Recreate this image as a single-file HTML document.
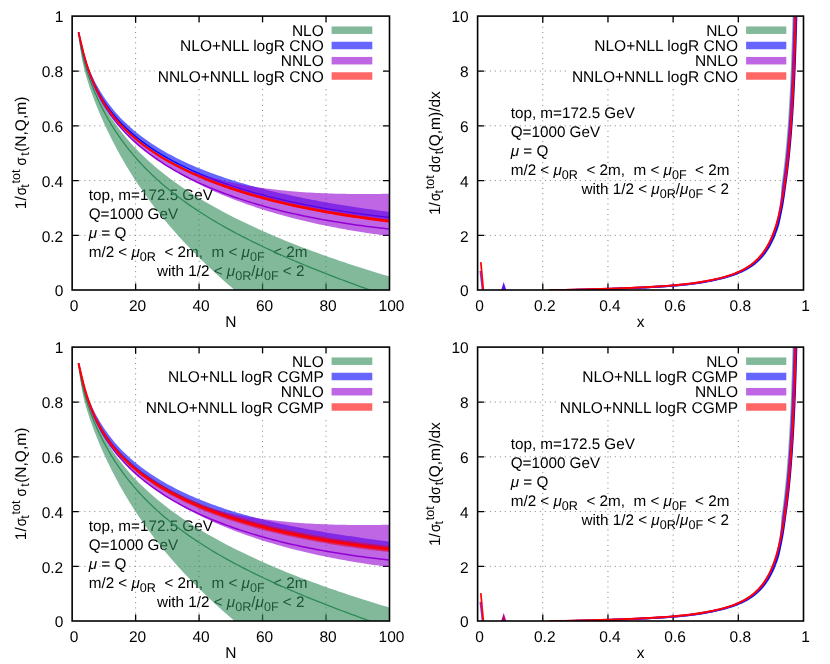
<!DOCTYPE html>
<html><head><meta charset="utf-8"><title>plot</title>
<style>html,body{margin:0;padding:0;background:#fff}svg{display:block;will-change:transform}text{font-family:"Liberation Sans", sans-serif;font-size:15.5px;fill:#000;text-rendering:geometricPrecision}text.s{font-size:12.6px}text.a{font-size:15.25px}</style></head><body>
<svg width="830" height="664" viewBox="0 0 830 664">
<rect width="830" height="664" fill="#fff"/>
<path d="M135.62 287.8V16.1M199.09 287.8V16.1M262.56 287.8V16.1M326.03 287.8V16.1" stroke="#808080" stroke-width="1" stroke-dasharray="1 4.2" fill="none"/>
<path d="M74.35 235.37H389.5M74.35 180.59H389.5M74.35 125.81H389.5M74.35 71.03H389.5" stroke="#808080" stroke-width="1" stroke-dasharray="1 4.0" fill="none"/>
<path d="M135.62 290v-6.6M135.62 16.1v6.6M199.09 290v-6.6M199.09 16.1v6.6M262.56 290v-6.6M262.56 16.1v6.6M326.03 290v-6.6M326.03 16.1v6.6M72.15 235.37h6.6M389.5 235.37h-6.6M72.15 180.59h6.6M389.5 180.59h-6.6M72.15 125.81h6.6M389.5 125.81h-6.6M72.15 71.03h6.6M389.5 71.03h-6.6" stroke="#000" stroke-width="1.3" fill="none"/>
<text x="74.15" y="311.2" text-anchor="middle">0</text>
<text x="137.62" y="311.2" text-anchor="middle">20</text>
<text x="201.09" y="311.2" text-anchor="middle">40</text>
<text x="264.56" y="311.2" text-anchor="middle">60</text>
<text x="328.03" y="311.2" text-anchor="middle">80</text>
<text x="391.5" y="311.2" text-anchor="middle">100</text>
<text x="63.25" y="296.3" text-anchor="end">0</text>
<text x="63.25" y="241.67" text-anchor="end">0.2</text>
<text x="63.25" y="186.89" text-anchor="end">0.4</text>
<text x="63.25" y="132.11" text-anchor="end">0.6</text>
<text x="63.25" y="77.33" text-anchor="end">0.8</text>
<text x="63.25" y="22.4" text-anchor="end">1</text>
<text x="230.82" y="326.6" text-anchor="middle">N</text>
<g transform="translate(25.6 209.2) rotate(-90)">
<text x="0" y="0">1/</text>
<text x="14" y="0" textLength="8.3" lengthAdjust="spacingAndGlyphs">σ</text>
<text x="25.8" y="-5.9" class="s">tot</text>
<text x="21.4" y="3.3" class="s">t</text>
<text x="43.6" y="0" textLength="8.3" lengthAdjust="spacingAndGlyphs">σ</text>
<text x="53.5" y="3.3" class="s">t</text>
<text x="57.4" y="0">(N,Q,m)</text>
</g>
<text class="a" x="88.7" y="200">top, m=172.5 GeV</text>
<text class="a" x="88.7" y="219.2">Q=1000 GeV</text>
<text class="a" x="88.7" y="238.3"><tspan font-style="italic">μ</tspan> = Q</text>
<text class="a" x="88.7" y="257.4" xml:space="preserve">m/2 &lt; <tspan font-style="italic">μ</tspan><tspan dy="3.9" font-size="12.6">0R</tspan><tspan dy="-3.9">  &lt; 2m,  m &lt; </tspan><tspan font-style="italic">μ</tspan><tspan dy="3.9" font-size="12.6">0F</tspan><tspan dy="-3.9">  &lt; 2m</tspan></text>
<text class="a" x="304.5" y="276.4" text-anchor="end" xml:space="preserve">with 1/2 &lt; <tspan font-style="italic">μ</tspan><tspan dy="3.9" font-size="12.6">0R</tspan><tspan dy="-3.9">/</tspan><tspan font-style="italic">μ</tspan><tspan dy="3.9" font-size="12.6">0F</tspan><tspan dy="-3.9"> &lt; 2</tspan></text>
<rect x="155.2" y="22.5" width="227.8" height="63" fill="#fff"/>
<clipPath id="c1"><rect x="72.15" y="16.1" width="317.35" height="273.9"/></clipPath>
<g clip-path="url(#c1)" fill="none" stroke-linejoin="round">
<path d="M78.5 32.26 80.08 38.96 81.67 45.57 83.26 51.82 84.84 57.66 86.43 63.09 88.02 68.15 89.6 72.88 91.19 77.32 92.78 81.49 94.36 85.43 95.95 89.16 97.54 92.7 99.12 96.07 100.71 99.29 102.3 102.37 103.89 105.33 105.47 108.17 107.06 110.9 108.65 113.54 110.23 116.08 111.82 118.54 113.41 120.93 114.99 123.24 116.58 125.48 118.17 127.66 119.75 129.78 121.34 131.84 122.93 133.86 124.51 135.82 126.1 137.73 127.69 139.6 129.27 141.43 130.86 143.22 132.45 144.97 134.03 146.68 135.62 148.36 138.79 151.63 141.97 154.77 145.14 157.8 148.31 160.73 151.49 163.56 154.66 166.31 157.83 168.97 161.01 171.56 164.18 174.08 167.36 176.53 170.53 178.91 173.7 181.24 176.88 183.51 180.05 185.73 183.22 187.9 186.4 190.02 189.57 192.1 192.74 194.13 195.92 196.13 199.09 198.08 202.26 200 205.44 201.88 208.61 203.72 211.78 205.53 214.96 207.31 218.13 209.06 221.3 210.79 224.48 212.48 227.65 214.14 230.83 215.78 234 217.4 237.17 218.99 240.35 220.55 243.52 222.1 246.69 223.62 249.87 225.12 253.04 226.6 256.21 228.06 259.39 229.5 262.56 230.92 265.73 232.32 268.91 233.71 272.08 235.07 275.25 236.42 278.43 237.76 281.6 239.07 284.77 240.38 287.95 241.66 291.12 242.94 294.3 244.19 297.47 245.44 300.64 246.67 303.82 247.88 306.99 249.09 310.16 250.28 313.34 251.45 316.51 252.62 319.68 253.77 322.86 254.91 326.03 256.04 329.2 257.16 332.38 258.27 335.55 259.37 338.72 260.46 341.9 261.53 345.07 262.6 348.24 263.65 351.42 264.7 354.59 265.74 357.76 266.77 360.94 267.78 364.11 268.79 367.29 269.79 370.46 270.79 373.63 271.77 376.81 272.74 379.98 273.71 383.15 274.67 386.33 275.62 389.5 276.56 L389.5 382.86 386.33 381.47 383.15 380.06 379.98 378.64 376.81 377.21 373.63 375.76 370.46 374.29 367.29 372.81 364.11 371.31 360.94 369.79 357.76 368.26 354.59 366.71 351.42 365.15 348.24 363.57 345.07 361.96 341.9 360.34 338.72 358.7 335.55 357.04 332.38 355.36 329.2 353.66 326.03 351.94 322.86 350.2 319.68 348.43 316.51 346.65 313.34 344.83 310.16 343 306.99 341.14 303.82 339.25 300.64 337.34 297.47 335.4 294.3 333.44 291.12 331.44 287.95 329.42 284.77 327.37 281.6 325.28 278.43 323.17 275.25 321.02 272.08 318.84 268.91 316.62 265.73 314.37 262.56 312.08 259.39 309.75 256.21 307.38 253.04 304.97 249.87 302.52 246.69 300.02 243.52 297.48 240.35 294.89 237.17 292.25 234 289.56 230.83 286.83 227.65 284.06 224.48 281.27 221.3 278.44 218.13 275.57 214.96 272.66 211.78 269.72 208.61 266.73 205.44 263.71 202.26 260.63 199.09 257.51 195.92 254.35 192.74 251.13 189.57 247.86 186.4 244.53 183.22 241.14 180.05 237.69 176.88 234.18 173.7 230.6 170.53 226.95 167.36 223.22 164.18 219.41 161.01 215.52 157.83 211.54 154.66 207.46 151.49 203.29 148.31 199.01 145.14 194.61 141.97 190.1 138.79 185.46 135.62 180.69 134.03 178.25 132.45 175.77 130.86 173.25 129.27 170.69 127.69 168.09 126.1 165.45 124.51 162.76 122.93 160.03 121.34 157.25 119.75 154.42 118.17 151.54 116.58 148.6 114.99 145.61 113.41 142.56 111.82 139.45 110.23 136.27 108.65 133.03 107.06 129.72 105.47 126.34 103.89 122.88 102.3 119.34 100.71 115.71 99.12 112 97.54 108.18 95.95 104.25 94.36 100.21 92.78 96.02 91.19 91.68 89.6 87.13 88.02 82.33 86.43 77.19 84.84 71.55 83.26 65.13 81.67 57.41 80.08 47.29 78.5 32.26Z" fill="#2e8b57" fill-opacity="0.6"/>
<path d="M78.5 32.26 80.08 43.2 81.67 51.43 83.26 58.22 84.84 64.12 86.43 69.45 88.02 74.34 89.6 78.9 91.19 83.2 92.78 87.27 94.36 91.15 95.95 94.86 97.54 98.41 99.12 101.82 100.71 105.11 102.3 108.28 103.89 111.35 105.47 114.31 107.06 117.18 108.65 119.97 110.23 122.67 111.82 125.29 113.41 127.84 114.99 130.32 116.58 132.74 118.17 135.09 119.75 137.39 121.34 139.63 122.93 141.81 124.51 143.95 126.1 146.03 127.69 148.07 129.27 150.07 130.86 152.02 132.45 153.93 134.03 155.81 135.62 157.64 138.79 161.21 141.97 164.64 145.14 167.96 148.31 171.15 151.49 174.24 154.66 177.23 157.83 180.13 161.01 182.94 164.18 185.67 167.36 188.33 170.53 190.91 173.7 193.42 176.88 195.87 180.05 198.26 183.22 200.59 186.4 202.87 189.57 205.1 192.74 207.28 195.92 209.41 199.09 211.5 202.26 213.54 205.44 215.55 208.61 217.52 211.78 219.45 214.96 221.34 218.13 223.21 221.3 225.04 224.48 226.84 227.65 228.61 230.83 230.36 234 232.07 237.17 233.77 240.35 235.43 243.52 237.07 246.69 238.69 249.87 240.29 253.04 241.87 256.21 243.43 259.39 244.96 262.56 246.48 265.73 247.98 268.91 249.46 272.08 250.92 275.25 252.37 278.43 253.8 281.6 255.22 284.77 256.62 287.95 258.01 291.12 259.38 294.3 260.74 297.47 262.09 300.64 263.42 303.82 264.74 306.99 266.05 310.16 267.35 313.34 268.64 316.51 269.91 319.68 271.18 322.86 272.43 326.03 273.68 329.2 274.91 332.38 276.14 335.55 277.36 338.72 278.56 341.9 279.76 345.07 280.95 348.24 282.14 351.42 283.31 354.59 284.48 357.76 285.63 360.94 286.79 364.11 287.93 367.29 289.07 370.46 290.2 373.63 291.32 376.81 292.43 379.98 293.53 383.15 294.62 386.33 295.7 389.5 296.76" stroke="#2e8b57" stroke-width="1.3"/>
<path d="M78.5 32.26 80.08 39.97 81.67 46.5 83.26 52.21 84.84 57.32 86.43 61.96 88.02 66.22 89.6 70.17 91.19 73.86 92.78 77.31 94.36 80.57 95.95 83.65 97.54 86.57 99.12 89.35 100.71 92.01 102.3 94.55 103.89 96.98 105.47 99.31 107.06 101.56 108.65 103.72 110.23 105.81 111.82 107.82 113.41 109.77 114.99 111.65 116.58 113.47 118.17 115.24 119.75 116.96 121.34 118.63 122.93 120.25 124.51 121.82 126.1 123.36 127.69 124.85 129.27 126.31 130.86 127.73 132.45 129.11 134.03 130.46 135.62 131.79 138.79 134.34 141.97 136.78 145.14 139.11 148.31 141.35 151.49 143.51 154.66 145.58 157.83 147.57 161.01 149.49 164.18 151.35 167.36 153.14 170.53 154.87 173.7 156.55 176.88 158.17 180.05 159.74 183.22 161.27 186.4 162.75 189.57 164.18 192.74 165.58 195.92 166.93 199.09 168.25 202.26 169.54 205.44 170.79 208.61 172 211.78 173.19 214.96 174.35 218.13 175.47 221.3 176.58 224.48 177.65 227.65 178.7 230.83 179.72 234 180.72 237.17 181.7 240.35 182.66 243.52 183.59 246.69 184.51 249.87 185.4 253.04 186.28 256.21 187.14 259.39 187.98 262.56 188.8 265.73 189.61 268.91 190.4 272.08 191.17 275.25 191.93 278.43 192.68 281.6 193.41 284.77 194.12 287.95 194.83 291.12 195.52 294.3 196.19 297.47 196.86 300.64 197.51 303.82 198.15 306.99 198.78 310.16 199.4 313.34 200.01 316.51 200.6 319.68 201.19 322.86 201.77 326.03 202.33 329.2 202.89 332.38 203.44 335.55 203.98 338.72 204.51 341.9 205.03 345.07 205.54 348.24 206.05 351.42 206.55 354.59 207.03 357.76 207.51 360.94 207.99 364.11 208.45 367.29 208.91 370.46 209.36 373.63 209.81 376.81 210.25 379.98 210.68 383.15 211.1 386.33 211.52 389.5 211.93 L389.5 221.12 386.33 220.74 383.15 220.35 379.98 219.96 376.81 219.55 373.63 219.14 370.46 218.72 367.29 218.28 364.11 217.84 360.94 217.4 357.76 216.94 354.59 216.47 351.42 215.99 348.24 215.51 345.07 215.01 341.9 214.5 338.72 213.98 335.55 213.45 332.38 212.92 329.2 212.37 326.03 211.8 322.86 211.23 319.68 210.65 316.51 210.05 313.34 209.44 310.16 208.82 306.99 208.19 303.82 207.54 300.64 206.88 297.47 206.21 294.3 205.52 291.12 204.82 287.95 204.1 284.77 203.37 281.6 202.63 278.43 201.87 275.25 201.09 272.08 200.3 268.91 199.49 265.73 198.66 262.56 197.81 259.39 196.95 256.21 196.07 253.04 195.17 249.87 194.25 246.69 193.3 243.52 192.34 240.35 191.36 237.17 190.35 234 189.32 230.83 188.27 227.65 187.2 224.48 186.09 221.3 184.97 218.13 183.81 214.96 182.63 211.78 181.42 208.61 180.18 205.44 178.9 202.26 177.6 199.09 176.26 195.92 174.88 192.74 173.47 189.57 172.02 186.4 170.53 183.22 168.99 180.05 167.41 176.88 165.79 173.7 164.11 170.53 162.39 167.36 160.6 164.18 158.76 161.01 156.86 157.83 154.89 154.66 152.85 151.49 150.73 148.31 148.54 145.14 146.25 141.97 143.87 138.79 141.38 135.62 138.78 134.03 137.44 132.45 136.06 130.86 134.65 129.27 133.2 127.69 131.71 126.1 130.18 124.51 128.61 122.93 127 121.34 125.34 119.75 123.62 118.17 121.85 116.58 120.02 114.99 118.13 113.41 116.18 111.82 114.15 110.23 112.04 108.65 109.84 107.06 107.56 105.47 105.17 103.89 102.68 102.3 100.06 100.71 97.31 99.12 94.41 97.54 91.34 95.95 88.1 94.36 84.64 92.78 80.95 91.19 77 89.6 72.74 88.02 68.15 86.43 63.17 84.84 57.75 83.26 51.86 81.67 45.5 80.08 38.8 78.5 32.26Z" fill="#0000ff" fill-opacity="0.6"/>
<path d="M78.5 32.26 80.08 39.32 81.67 46.15 83.26 52.46 84.84 58.22 86.43 63.46 88.02 68.26 89.6 72.67 91.19 76.74 92.78 80.52 94.36 84.04 95.95 87.34 97.54 90.45 99.12 93.38 100.71 96.16 102.3 98.79 103.89 101.31 105.47 103.71 107.06 106 108.65 108.2 110.23 110.32 111.82 112.36 113.41 114.32 114.99 116.22 116.58 118.05 118.17 119.83 119.75 121.55 121.34 123.22 122.93 124.84 124.51 126.41 126.1 127.95 127.69 129.44 129.27 130.9 130.86 132.32 132.45 133.7 134.03 135.05 135.62 136.38 138.79 138.93 141.97 141.38 145.14 143.73 148.31 145.99 151.49 148.16 154.66 150.26 157.83 152.28 161.01 154.23 164.18 156.12 167.36 157.95 170.53 159.72 173.7 161.43 176.88 163.1 180.05 164.72 183.22 166.29 186.4 167.81 189.57 169.3 192.74 170.74 195.92 172.15 199.09 173.52 202.26 174.85 205.44 176.15 208.61 177.42 211.78 178.65 214.96 179.86 218.13 181.04 221.3 182.18 224.48 183.3 227.65 184.4 230.83 185.47 234 186.51 237.17 187.53 240.35 188.53 243.52 189.5 246.69 190.46 249.87 191.39 253.04 192.3 256.21 193.19 259.39 194.06 262.56 194.91 265.73 195.74 268.91 196.56 272.08 197.36 275.25 198.14 278.43 198.9 281.6 199.65 284.77 200.38 287.95 201.09 291.12 201.8 294.3 202.48 297.47 203.15 300.64 203.81 303.82 204.45 306.99 205.08 310.16 205.7 313.34 206.3 316.51 206.89 319.68 207.47 322.86 208.03 326.03 208.58 329.2 209.13 332.38 209.65 335.55 210.17 338.72 210.68 341.9 211.18 345.07 211.66 348.24 212.14 351.42 212.6 354.59 213.05 357.76 213.5 360.94 213.93 364.11 214.36 367.29 214.77 370.46 215.18 373.63 215.58 376.81 215.96 379.98 216.34 383.15 216.71 386.33 217.07 389.5 217.43" stroke="#0000ff" stroke-width="1.25"/>
<path d="M78.5 32.26 80.08 40.97 81.67 48.08 83.26 54.21 84.84 59.64 86.43 64.57 88.02 69.1 89.6 73.3 91.19 77.23 92.78 80.93 94.36 84.42 95.95 87.72 97.54 90.86 99.12 93.86 100.71 96.72 102.3 99.46 103.89 102.08 105.47 104.6 107.06 107.02 108.65 109.35 110.23 111.6 111.82 113.76 113.41 115.86 114.99 117.88 116.58 119.83 118.17 121.72 119.75 123.55 121.34 125.32 122.93 127.04 124.51 128.71 126.1 130.33 127.69 131.9 129.27 133.43 130.86 134.92 132.45 136.36 134.03 137.76 135.62 139.13 138.79 141.75 141.97 144.24 145.14 146.61 148.31 148.85 151.49 150.99 154.66 153.03 157.83 154.97 161.01 156.83 164.18 158.6 167.36 160.29 170.53 161.9 173.7 163.45 176.88 164.92 180.05 166.34 183.22 167.69 186.4 168.98 189.57 170.22 192.74 171.41 195.92 172.55 199.09 173.64 202.26 174.69 205.44 175.69 208.61 176.65 211.78 177.57 214.96 178.46 218.13 179.3 221.3 180.11 224.48 180.89 227.65 181.64 230.83 182.35 234 183.03 237.17 183.69 240.35 184.31 243.52 184.91 246.69 185.48 249.87 186.03 253.04 186.55 256.21 187.05 259.39 187.53 262.56 187.98 265.73 188.42 268.91 188.83 272.08 189.22 275.25 189.6 278.43 189.95 281.6 190.29 284.77 190.6 287.95 190.9 291.12 191.19 294.3 191.46 297.47 191.71 300.64 191.95 303.82 192.17 306.99 192.38 310.16 192.57 313.34 192.75 316.51 192.92 319.68 193.07 322.86 193.21 326.03 193.34 329.2 193.46 332.38 193.56 335.55 193.66 338.72 193.74 341.9 193.81 345.07 193.87 348.24 193.92 351.42 193.96 354.59 193.99 357.76 194.01 360.94 194.03 364.11 194.03 367.29 194.02 370.46 194.01 373.63 193.98 376.81 193.95 379.98 193.91 383.15 193.86 386.33 193.81 389.5 193.74 L389.5 236.01 386.33 235.61 383.15 235.2 379.98 234.78 376.81 234.34 373.63 233.89 370.46 233.44 367.29 232.97 364.11 232.49 360.94 231.99 357.76 231.49 354.59 230.97 351.42 230.44 348.24 229.89 345.07 229.34 341.9 228.77 338.72 228.18 335.55 227.59 332.38 226.97 329.2 226.35 326.03 225.71 322.86 225.05 319.68 224.38 316.51 223.7 313.34 223 310.16 222.28 306.99 221.55 303.82 220.8 300.64 220.04 297.47 219.26 294.3 218.46 291.12 217.64 287.95 216.81 284.77 215.95 281.6 215.08 278.43 214.19 275.25 213.28 272.08 212.35 268.91 211.4 265.73 210.43 262.56 209.44 259.39 208.43 256.21 207.4 253.04 206.34 249.87 205.26 246.69 204.15 243.52 203.03 240.35 201.87 237.17 200.7 234 199.49 230.83 198.26 227.65 197 224.48 195.72 221.3 194.4 218.13 193.05 214.96 191.68 211.78 190.27 208.61 188.83 205.44 187.36 202.26 185.85 199.09 184.3 195.92 182.72 192.74 181.1 189.57 179.44 186.4 177.73 183.22 175.99 180.05 174.19 176.88 172.35 173.7 170.47 170.53 168.52 167.36 166.53 164.18 164.47 161.01 162.36 157.83 160.18 154.66 157.94 151.49 155.62 148.31 153.22 145.14 150.74 141.97 148.17 138.79 145.5 135.62 142.72 134.03 141.29 132.45 139.83 130.86 138.33 129.27 136.81 127.69 135.24 126.1 133.64 124.51 132 122.93 130.31 121.34 128.58 119.75 126.8 118.17 124.97 116.58 123.09 114.99 121.14 113.41 119.13 111.82 117.05 110.23 114.89 108.65 112.65 107.06 110.32 105.47 107.89 103.89 105.35 102.3 102.69 100.71 99.89 99.12 96.94 97.54 93.81 95.95 90.5 94.36 86.96 92.78 83.17 91.19 79.1 89.6 74.69 88.02 69.91 86.43 64.68 84.84 58.97 83.26 52.73 81.67 45.96 80.08 38.89 78.5 32.26Z" fill="#9400d3" fill-opacity="0.6"/>
<path d="M78.5 32.26 80.08 39.45 81.67 46.52 83.26 53.1 84.84 59.13 86.43 64.65 88.02 69.7 89.6 74.36 91.19 78.66 92.78 82.67 94.36 86.4 95.95 89.91 97.54 93.22 99.12 96.34 100.71 99.3 102.3 102.12 103.89 104.8 105.47 107.37 107.06 109.83 108.65 112.19 110.23 114.46 111.82 116.65 113.41 118.76 114.99 120.8 116.58 122.78 118.17 124.69 119.75 126.54 121.34 128.35 122.93 130.1 124.51 131.8 126.1 133.46 127.69 135.07 129.27 136.65 130.86 138.18 132.45 139.69 134.03 141.15 135.62 142.58 138.79 145.36 141.97 148.01 145.14 150.56 148.31 153.02 151.49 155.38 154.66 157.66 157.83 159.85 161.01 161.98 164.18 164.03 167.36 166.02 170.53 167.94 173.7 169.81 176.88 171.62 180.05 173.37 183.22 175.08 186.4 176.73 189.57 178.34 192.74 179.91 195.92 181.43 199.09 182.92 202.26 184.36 205.44 185.77 208.61 187.14 211.78 188.47 214.96 189.77 218.13 191.04 221.3 192.28 224.48 193.49 227.65 194.66 230.83 195.81 234 196.93 237.17 198.03 240.35 199.1 243.52 200.14 246.69 201.16 249.87 202.15 253.04 203.12 256.21 204.07 259.39 205 262.56 205.9 265.73 206.78 268.91 207.65 272.08 208.49 275.25 209.32 278.43 210.12 281.6 210.91 284.77 211.68 287.95 212.43 291.12 213.16 294.3 213.88 297.47 214.58 300.64 215.26 303.82 215.93 306.99 216.58 310.16 217.22 313.34 217.84 316.51 218.45 319.68 219.04 322.86 219.62 326.03 220.18 329.2 220.74 332.38 221.28 335.55 221.8 338.72 222.31 341.9 222.82 345.07 223.3 348.24 223.78 351.42 224.24 354.59 224.7 357.76 225.14 360.94 225.57 364.11 225.99 367.29 226.4 370.46 226.79 373.63 227.18 376.81 227.56 379.98 227.92 383.15 228.28 386.33 228.63 389.5 228.96" stroke="#9400d3" stroke-width="1.5"/>
<path d="M78.5 32.26 80.08 38.79 81.67 45.49 83.26 51.84 84.84 57.71 86.43 63.11 88.02 68.07 89.6 72.63 91.19 76.83 92.78 80.72 94.36 84.34 95.95 87.73 97.54 90.93 99.12 93.96 100.71 96.83 102.3 99.54 103.89 102.13 105.47 104.59 107.06 106.95 108.65 109.2 110.23 111.37 111.82 113.45 113.41 115.45 114.99 117.38 116.58 119.25 118.17 121.05 119.75 122.8 121.34 124.49 122.93 126.13 124.51 127.73 126.1 129.28 127.69 130.79 129.27 132.26 130.86 133.7 132.45 135.1 134.03 136.46 135.62 137.8 138.79 140.38 141.97 142.84 145.14 145.21 148.31 147.48 151.49 149.66 154.66 151.76 157.83 153.79 161.01 155.75 164.18 157.64 167.36 159.47 170.53 161.24 173.7 162.96 176.88 164.62 180.05 166.24 183.22 167.81 186.4 169.33 189.57 170.82 192.74 172.26 195.92 173.66 199.09 175.02 202.26 176.35 205.44 177.65 208.61 178.91 211.78 180.14 214.96 181.34 218.13 182.51 221.3 183.65 224.48 184.76 227.65 185.85 230.83 186.92 234 187.96 237.17 188.98 240.35 189.97 243.52 190.95 246.69 191.9 249.87 192.83 253.04 193.75 256.21 194.65 259.39 195.53 262.56 196.39 265.73 197.23 268.91 198.06 272.08 198.87 275.25 199.67 278.43 200.44 281.6 201.2 284.77 201.95 287.95 202.68 291.12 203.4 294.3 204.1 297.47 204.78 300.64 205.46 303.82 206.12 306.99 206.76 310.16 207.4 313.34 208.02 316.51 208.63 319.68 209.22 322.86 209.81 326.03 210.38 329.2 210.94 332.38 211.49 335.55 212.03 338.72 212.56 341.9 213.08 345.07 213.58 348.24 214.08 351.42 214.57 354.59 215.05 357.76 215.51 360.94 215.97 364.11 216.42 367.29 216.86 370.46 217.29 373.63 217.71 376.81 218.13 379.98 218.53 383.15 218.93 386.33 219.32 389.5 219.69 L389.5 222.54 386.33 222.16 383.15 221.78 379.98 221.38 376.81 220.97 373.63 220.56 370.46 220.14 367.29 219.71 364.11 219.27 360.94 218.82 357.76 218.36 354.59 217.89 351.42 217.42 348.24 216.93 345.07 216.43 341.9 215.93 338.72 215.41 335.55 214.88 332.38 214.34 329.2 213.79 326.03 213.23 322.86 212.66 319.68 212.07 316.51 211.48 313.34 210.87 310.16 210.25 306.99 209.61 303.82 208.97 300.64 208.31 297.47 207.63 294.3 206.95 291.12 206.24 287.95 205.53 284.77 204.8 281.6 204.05 278.43 203.29 275.25 202.51 272.08 201.72 268.91 200.91 265.73 200.08 262.56 199.24 259.39 198.37 256.21 197.49 253.04 196.58 249.87 195.66 246.69 194.71 243.52 193.74 240.35 192.75 237.17 191.73 234 190.69 230.83 189.63 227.65 188.54 224.48 187.43 221.3 186.29 218.13 185.12 214.96 183.92 211.78 182.7 208.61 181.44 205.44 180.16 202.26 178.84 199.09 177.49 195.92 176.1 192.74 174.68 189.57 173.22 186.4 171.72 183.22 170.17 180.05 168.59 176.88 166.95 173.7 165.27 170.53 163.53 167.36 161.74 164.18 159.89 161.01 157.97 157.83 155.99 154.66 153.94 151.49 151.81 148.31 149.59 145.14 147.29 141.97 144.89 138.79 142.39 135.62 139.77 134.03 138.41 132.45 137.02 130.86 135.6 129.27 134.13 127.69 132.63 126.1 131.09 124.51 129.5 122.93 127.86 121.34 126.18 119.75 124.44 118.17 122.65 116.58 120.8 114.99 118.88 113.41 116.9 111.82 114.84 110.23 112.71 108.65 110.48 107.06 108.17 105.47 105.75 103.89 103.22 102.3 100.57 100.71 97.79 99.12 94.85 97.54 91.75 95.95 88.46 94.36 84.94 92.78 81.19 91.19 77.17 89.6 72.86 88.02 68.23 86.43 63.23 84.84 57.79 83.26 51.89 81.67 45.51 80.08 38.8 78.5 32.26Z" fill="#ff0000"/>
<path d="M78.5 32.26 80.08 38.8 81.67 45.5 83.26 51.86 84.84 57.75 86.43 63.17 88.02 68.15 89.6 72.74 91.19 77 92.78 80.95 94.36 84.64 95.95 88.1 97.54 91.34 99.12 94.41 100.71 97.31 102.3 100.06 103.89 102.68 105.47 105.17 107.06 107.56 108.65 109.84 110.23 112.04 111.82 114.15 113.41 116.18 114.99 118.13 116.58 120.02 118.17 121.85 119.75 123.62 121.34 125.34 122.93 127 124.51 128.61 126.1 130.18 127.69 131.71 129.27 133.2 130.86 134.65 132.45 136.06 134.03 137.44 135.62 138.78 138.79 141.38 141.97 143.87 145.14 146.25 148.31 148.54 151.49 150.73 154.66 152.85 157.83 154.89 161.01 156.86 164.18 158.76 167.36 160.6 170.53 162.39 173.7 164.11 176.88 165.79 180.05 167.41 183.22 168.99 186.4 170.53 189.57 172.02 192.74 173.47 195.92 174.88 199.09 176.26 202.26 177.6 205.44 178.9 208.61 180.18 211.78 181.42 214.96 182.63 218.13 183.81 221.3 184.97 224.48 186.09 227.65 187.2 230.83 188.27 234 189.32 237.17 190.35 240.35 191.36 243.52 192.34 246.69 193.3 249.87 194.25 253.04 195.17 256.21 196.07 259.39 196.95 262.56 197.81 265.73 198.66 268.91 199.49 272.08 200.3 275.25 201.09 278.43 201.87 281.6 202.63 284.77 203.37 287.95 204.1 291.12 204.82 294.3 205.52 297.47 206.21 300.64 206.88 303.82 207.54 306.99 208.19 310.16 208.82 313.34 209.44 316.51 210.05 319.68 210.65 322.86 211.23 326.03 211.8 329.2 212.37 332.38 212.92 335.55 213.45 338.72 213.98 341.9 214.5 345.07 215.01 348.24 215.51 351.42 215.99 354.59 216.47 357.76 216.94 360.94 217.4 364.11 217.84 367.29 218.28 370.46 218.72 373.63 219.14 376.81 219.55 379.98 219.96 383.15 220.35 386.33 220.74 389.5 221.12" stroke="#ff0000" stroke-width="1.8"/>
</g>
<rect x="72.15" y="16.1" width="317.35" height="273.9" fill="none" stroke="#000" stroke-width="1.6"/>
<text x="323.8" y="35.7" text-anchor="end">NLO</text>
<rect x="331.6" y="26.45" width="40.7" height="7.5" fill="#2e8b57" fill-opacity="0.6"/>
<text x="323.8" y="51" text-anchor="end">NLO+NLL logR CNO</text>
<rect x="331.6" y="41.75" width="40.7" height="7.5" fill="#0000ff" fill-opacity="0.6"/>
<text x="323.8" y="66.2" text-anchor="end">NNLO</text>
<rect x="331.6" y="56.95" width="40.7" height="7.5" fill="#9400d3" fill-opacity="0.6"/>
<text x="323.8" y="81.5" text-anchor="end">NNLO+NNLL logR CNO</text>
<rect x="331.6" y="72.25" width="40.7" height="7.5" fill="#ff0000" fill-opacity="0.6"/>
<path d="M542.78 287.8V16.1M607.96 287.8V16.1M673.14 287.8V16.1M738.32 287.8V16.1" stroke="#808080" stroke-width="1" stroke-dasharray="1 4.2" fill="none"/>
<path d="M479.8 235.37H803.5M479.8 180.59H803.5M479.8 125.81H803.5M479.8 71.03H803.5" stroke="#808080" stroke-width="1" stroke-dasharray="1 4.0" fill="none"/>
<path d="M542.78 290v-6.6M542.78 16.1v6.6M607.96 290v-6.6M607.96 16.1v6.6M673.14 290v-6.6M673.14 16.1v6.6M738.32 290v-6.6M738.32 16.1v6.6M477.6 235.37h6.6M803.5 235.37h-6.6M477.6 180.59h6.6M803.5 180.59h-6.6M477.6 125.81h6.6M803.5 125.81h-6.6M477.6 71.03h6.6M803.5 71.03h-6.6" stroke="#000" stroke-width="1.3" fill="none"/>
<text x="479.6" y="311.2" text-anchor="middle">0</text>
<text x="544.78" y="311.2" text-anchor="middle">0.2</text>
<text x="609.96" y="311.2" text-anchor="middle">0.4</text>
<text x="675.14" y="311.2" text-anchor="middle">0.6</text>
<text x="740.32" y="311.2" text-anchor="middle">0.8</text>
<text x="805.5" y="311.2" text-anchor="middle">1</text>
<text x="468.7" y="296.3" text-anchor="end">0</text>
<text x="468.7" y="241.67" text-anchor="end">2</text>
<text x="468.7" y="186.89" text-anchor="end">4</text>
<text x="468.7" y="132.11" text-anchor="end">6</text>
<text x="468.7" y="77.33" text-anchor="end">8</text>
<text x="468.7" y="22.4" text-anchor="end">10</text>
<text x="640.55" y="326.6" text-anchor="middle">x</text>
<g transform="translate(440 215) rotate(-90)">
<text x="0" y="0">1/</text>
<text x="14" y="0" textLength="8.3" lengthAdjust="spacingAndGlyphs">σ</text>
<text x="25.8" y="-5.9" class="s">tot</text>
<text x="21.4" y="3.3" class="s">t</text>
<text x="42.6" y="0">d</text>
<text x="51.2" y="0" textLength="8.3" lengthAdjust="spacingAndGlyphs">σ</text>
<text x="60.7" y="3.3" class="s">t</text>
<text x="63.6" y="0">(Q,m)/dx</text>
</g>
<text class="a" x="510.7" y="117.6">top, m=172.5 GeV</text>
<text class="a" x="510.7" y="136.6">Q=1000 GeV</text>
<text class="a" x="510.7" y="155.8"><tspan font-style="italic">μ</tspan> = Q</text>
<text class="a" x="510.7" y="175" xml:space="preserve">m/2 &lt; <tspan font-style="italic">μ</tspan><tspan dy="3.9" font-size="12.6">0R</tspan><tspan dy="-3.9">  &lt; 2m,  m &lt; </tspan><tspan font-style="italic">μ</tspan><tspan dy="3.9" font-size="12.6">0F</tspan><tspan dy="-3.9">  &lt; 2m</tspan></text>
<text class="a" x="729" y="194.2" text-anchor="end" xml:space="preserve">with 1/2 &lt; <tspan font-style="italic">μ</tspan><tspan dy="3.9" font-size="12.6">0R</tspan><tspan dy="-3.9">/</tspan><tspan font-style="italic">μ</tspan><tspan dy="3.9" font-size="12.6">0F</tspan><tspan dy="-3.9"> &lt; 2</tspan></text>
<rect x="569.4" y="22.5" width="227.6" height="63" fill="#fff"/>
<clipPath id="c2"><rect x="477.6" y="16.1" width="325.9" height="273.9"/></clipPath>
<g clip-path="url(#c2)" fill="none" stroke-linejoin="round">
<path d="M551.6 290.24 554.86 290.23 558.12 290.21 561.38 290.2 564.63 290.17 567.89 290.12 571.15 290.06 574.41 289.97 577.67 289.89 580.93 289.82 584.19 289.74 587.45 289.66 590.71 289.57 593.97 289.47 597.22 289.38 600.48 289.28 603.74 289.18 607 289.07 610.26 288.96 613.52 288.85 616.78 288.73 620.04 288.61 623.3 288.48 626.56 288.36 629.81 288.23 633.07 288.09 636.33 287.95 639.59 287.8 642.85 287.65 646.11 287.48 649.37 287.31 652.63 287.13 655.89 286.95 659.14 286.75 662.4 286.55 665.66 286.33 668.92 286.11 672.18 285.86 675.44 285.59 678.7 285.31 681.96 285 685.22 284.67 688.48 284.31 691.74 283.93 694.99 283.5 698.25 283.04 701.51 282.54 704.77 282 708.03 281.42 711.29 280.8 714.55 280.14 717.81 279.43 721.07 278.67 724.33 277.83 727.58 276.92 730.84 275.92 734.1 274.81 737.36 273.59 740.62 272.22 740.62 272.22 741.27 271.93 741.92 271.63 742.58 271.32 743.23 271.01 743.88 270.69 744.53 270.36 745.18 270.02 745.83 269.67 746.49 269.32 747.14 268.95 747.79 268.58 748.44 268.19 749.09 267.8 749.75 267.39 750.4 266.98 751.05 266.55 751.7 266.11 752.35 265.66 753 265.19 753.66 264.71 754.31 264.22 754.96 263.71 755.61 263.18 756.26 262.64 756.91 262.09 757.57 261.51 758.22 260.92 758.87 260.31 759.52 259.67 760.17 259.02 760.83 258.34 761.48 257.64 762.13 256.92 762.78 256.17 763.43 255.39 764.08 254.58 764.74 253.75 765.39 252.88 766.04 251.98 766.69 251.05 767.34 250.08 768 249.07 768.65 248.02 769.3 246.93 769.95 245.79 770.6 244.61 771.25 243.37 771.91 242.08 772.56 240.73 773.21 239.33 773.86 237.86 774.51 236.32 775.17 234.71 775.82 233.03 776.47 231.26 777.12 229.41 777.77 227.47 778.42 225.42 778.92 223.27 779.3 221 779.66 218.61 780.01 216.09 780.33 213.43 780.64 210.62 780.93 207.66 781.21 204.53 781.45 201.21 781.68 197.7 781.88 193.98 782.05 190.02 782.2 185.82 782.85 181.37 783.5 176.63 784.15 171.57 784.81 166.15 785.46 160.34 786.11 154.1 786.76 147.37 787.41 140.08 788.06 132.16 788.72 123.51 789.37 113.98 790.02 103.39 790.67 91.49 791.32 77.91 791.97 62.12 792.63 43.3 793.28 20.12 793.93 -9.6" stroke="#2e8b57" stroke-opacity="0.6" stroke-width="1.7"/>
<path d="M550.9 290.19 554.16 290.18 557.42 290.16 560.68 290.15 563.93 290.12 567.19 290.07 570.45 290.01 573.71 289.92 576.97 289.84 580.23 289.77 583.49 289.69 586.75 289.61 590.01 289.52 593.27 289.42 596.52 289.33 599.78 289.23 603.04 289.13 606.3 289.02 609.56 288.91 612.82 288.8 616.08 288.68 619.34 288.56 622.6 288.43 625.86 288.31 629.11 288.18 632.37 288.04 635.63 287.9 638.89 287.75 642.15 287.6 645.41 287.43 648.67 287.26 651.93 287.08 655.19 286.9 658.45 286.7 661.7 286.5 664.96 286.28 668.22 286.06 671.48 285.81 674.74 285.54 678 285.26 681.26 284.95 684.52 284.62 687.78 284.26 691.04 283.88 694.29 283.45 697.55 282.99 700.81 282.49 704.07 281.95 707.33 281.37 710.59 280.75 713.85 280.09 717.11 279.38 720.37 278.62 723.63 277.78 726.88 276.87 730.14 275.87 733.4 274.76 736.66 273.54 739.92 272.17 739.92 272.17 740.57 271.88 741.22 271.58 741.88 271.27 742.53 270.96 743.18 270.64 743.83 270.31 744.48 269.97 745.13 269.62 745.79 269.27 746.44 268.9 747.09 268.53 747.74 268.14 748.39 267.75 749.05 267.34 749.7 266.93 750.35 266.5 751 266.06 751.65 265.61 752.3 265.14 752.96 264.66 753.61 264.17 754.26 263.66 754.91 263.13 755.56 262.59 756.22 262.04 756.87 261.46 757.52 260.87 758.17 260.26 758.82 259.62 759.47 258.97 760.13 258.29 760.78 257.59 761.43 256.87 762.08 256.12 762.73 255.34 763.38 254.53 764.04 253.7 764.69 252.83 765.34 251.93 765.99 251 766.64 250.03 767.3 249.02 767.95 247.97 768.6 246.88 769.25 245.74 769.9 244.56 770.55 243.32 771.21 242.03 771.86 240.68 772.51 239.28 773.16 237.81 773.81 236.27 774.47 234.66 775.12 232.98 775.77 231.21 776.42 229.36 777.07 227.42 777.72 225.37 778.34 223.22 778.93 220.95 779.52 218.56 780.1 216.05 780.68 213.39 781.26 210.59 781.83 207.63 782.4 204.5 782.96 201.19 783.51 197.69 784.06 193.97 784.61 190.02 785.15 185.82 785.8 181.37 786.45 176.63 787.1 171.57 787.75 166.15 788.41 160.34 789.06 154.1 789.71 147.37 790.36 140.08 791.01 132.16 791.67 123.51 792.32 113.98 792.97 103.39 793.62 91.49 794.27 77.91 794.92 62.12 795.58 43.3 796.23 20.12 796.88 -9.6" stroke="#0000ff" stroke-width="2.0"/>
<path d="M549.7 290.09 552.96 290.08 556.22 290.06 559.48 290.05 562.73 290.02 565.99 289.97 569.25 289.91 572.51 289.82 575.77 289.74 579.03 289.67 582.29 289.59 585.55 289.51 588.81 289.42 592.07 289.32 595.32 289.23 598.58 289.13 601.84 289.03 605.1 288.92 608.36 288.81 611.62 288.7 614.88 288.58 618.14 288.46 621.4 288.33 624.66 288.21 627.91 288.08 631.17 287.94 634.43 287.8 637.69 287.65 640.95 287.5 644.21 287.33 647.47 287.16 650.73 286.98 653.99 286.8 657.25 286.6 660.5 286.4 663.76 286.18 667.02 285.96 670.28 285.71 673.54 285.44 676.8 285.16 680.06 284.85 683.32 284.52 686.58 284.16 689.84 283.78 693.09 283.35 696.35 282.89 699.61 282.39 702.87 281.85 706.13 281.27 709.39 280.65 712.65 279.99 715.91 279.28 719.17 278.52 722.43 277.68 725.68 276.77 728.94 275.77 732.2 274.66 735.46 273.44 738.72 272.07 738.72 272.07 739.37 271.78 740.02 271.48 740.68 271.17 741.33 270.86 741.98 270.54 742.63 270.21 743.28 269.87 743.93 269.52 744.59 269.17 745.24 268.8 745.89 268.43 746.54 268.04 747.19 267.65 747.85 267.24 748.5 266.83 749.15 266.4 749.8 265.96 750.45 265.51 751.1 265.04 751.76 264.56 752.41 264.07 753.06 263.56 753.71 263.03 754.36 262.49 755.01 261.94 755.67 261.36 756.32 260.77 756.97 260.16 757.62 259.52 758.27 258.87 758.93 258.19 759.58 257.49 760.23 256.77 760.88 256.02 761.53 255.24 762.18 254.43 762.84 253.6 763.49 252.73 764.14 251.83 764.79 250.9 765.44 249.93 766.1 248.92 766.75 247.87 767.4 246.78 768.05 245.64 768.7 244.46 769.35 243.22 770.01 241.93 770.66 240.58 771.31 239.18 771.96 237.71 772.61 236.17 773.27 234.56 773.92 232.88 774.57 231.11 775.22 229.26 775.87 227.32 776.52 225.27 777.12 223.13 777.67 220.86 778.22 218.48 778.76 215.97 779.3 213.32 779.82 210.53 780.34 207.58 780.86 204.46 781.36 201.15 781.86 197.66 782.35 193.95 782.83 190.01 783.3 185.82 783.95 181.37 784.6 176.63 785.25 171.57 785.91 166.15 786.56 160.34 787.21 154.1 787.86 147.37 788.51 140.08 789.16 132.16 789.82 123.51 790.47 113.98 791.12 103.39 791.77 91.49 792.42 77.91 793.07 62.12 793.73 43.3 794.38 20.12 795.03 -9.6" stroke="#8a10e0" stroke-width="2.0"/>
<path d="M480.79 270.83 L482.98 290" stroke="#8a2be2" stroke-width="1.6" transform="translate(-0.5 0)"/>
<path d="M501.23 290 L503.67 282.06 L506.28 290 Z" fill="#5a14f0"/>
<path d="M549.3 289.99 552.56 289.98 555.82 289.96 559.08 289.95 562.33 289.92 565.59 289.87 568.85 289.81 572.11 289.72 575.37 289.64 578.63 289.57 581.89 289.49 585.15 289.41 588.41 289.32 591.67 289.22 594.92 289.13 598.18 289.03 601.44 288.93 604.7 288.82 607.96 288.71 611.22 288.6 614.48 288.48 617.74 288.36 621 288.23 624.26 288.11 627.51 287.98 630.77 287.84 634.03 287.7 637.29 287.55 640.55 287.4 643.81 287.23 647.07 287.06 650.33 286.88 653.59 286.7 656.85 286.5 660.1 286.3 663.36 286.08 666.62 285.86 669.88 285.61 673.14 285.34 676.4 285.06 679.66 284.75 682.92 284.42 686.18 284.06 689.44 283.68 692.69 283.25 695.95 282.79 699.21 282.29 702.47 281.75 705.73 281.17 708.99 280.55 712.25 279.89 715.51 279.18 718.77 278.42 722.03 277.58 725.28 276.67 728.54 275.67 731.8 274.56 735.06 273.34 738.32 271.97 738.32 271.97 738.97 271.68 739.62 271.38 740.28 271.07 740.93 270.76 741.58 270.44 742.23 270.11 742.88 269.77 743.53 269.42 744.19 269.07 744.84 268.7 745.49 268.33 746.14 267.94 746.79 267.55 747.45 267.14 748.1 266.73 748.75 266.3 749.4 265.86 750.05 265.41 750.7 264.94 751.36 264.46 752.01 263.97 752.66 263.46 753.31 262.93 753.96 262.39 754.62 261.84 755.27 261.26 755.92 260.67 756.57 260.06 757.22 259.42 757.87 258.77 758.53 258.09 759.18 257.39 759.83 256.67 760.48 255.92 761.13 255.14 761.78 254.33 762.44 253.5 763.09 252.63 763.74 251.73 764.39 250.8 765.04 249.83 765.7 248.82 766.35 247.77 767 246.68 767.65 245.54 768.3 244.36 768.95 243.12 769.61 241.83 770.26 240.48 770.91 239.08 771.56 237.61 772.21 236.07 772.87 234.46 773.52 232.78 774.17 231.01 774.82 229.16 775.47 227.22 776.12 225.17 776.78 223.03 777.43 220.77 778.08 218.39 778.73 215.89 779.38 213.25 780.04 210.46 780.69 207.52 781.34 204.41 781.99 201.11 782.64 197.63 783.29 193.92 783.95 189.99 784.6 185.82 785.25 181.37 785.9 176.63 786.55 171.57 787.21 166.15 787.86 160.34 788.51 154.1 789.16 147.37 789.81 140.08 790.46 132.16 791.12 123.51 791.77 113.98 792.42 103.39 793.07 91.49 793.72 77.91 794.37 62.12 795.03 43.3 795.68 20.12 796.33 -9.6" stroke="#ff0000" stroke-width="1.9"/>
<path d="M480.79 262.06 L483.4 290" stroke="#ff0000" stroke-width="1.7"/>
</g>
<rect x="477.6" y="16.1" width="325.9" height="273.9" fill="none" stroke="#000" stroke-width="1.6"/>
<text x="738" y="35.7" text-anchor="end">NLO</text>
<rect x="746.1" y="26.45" width="40.2" height="7.5" fill="#2e8b57" fill-opacity="0.6"/>
<text x="738" y="51" text-anchor="end">NLO+NLL logR CNO</text>
<rect x="746.1" y="41.75" width="40.2" height="7.5" fill="#0000ff" fill-opacity="0.6"/>
<text x="738" y="66.2" text-anchor="end">NNLO</text>
<rect x="746.1" y="56.95" width="40.2" height="7.5" fill="#9400d3" fill-opacity="0.6"/>
<text x="738" y="81.5" text-anchor="end">NNLO+NNLL logR CNO</text>
<rect x="746.1" y="72.25" width="40.2" height="7.5" fill="#ff0000" fill-opacity="0.6"/>
<path d="M135.62 618.8V347.1M199.09 618.8V347.1M262.56 618.8V347.1M326.03 618.8V347.1" stroke="#808080" stroke-width="1" stroke-dasharray="1 4.2" fill="none"/>
<path d="M74.35 566.37H389.5M74.35 511.59H389.5M74.35 456.81H389.5M74.35 402.03H389.5" stroke="#808080" stroke-width="1" stroke-dasharray="1 4.0" fill="none"/>
<path d="M135.62 621v-6.6M135.62 347.1v6.6M199.09 621v-6.6M199.09 347.1v6.6M262.56 621v-6.6M262.56 347.1v6.6M326.03 621v-6.6M326.03 347.1v6.6M72.15 566.37h6.6M389.5 566.37h-6.6M72.15 511.59h6.6M389.5 511.59h-6.6M72.15 456.81h6.6M389.5 456.81h-6.6M72.15 402.03h6.6M389.5 402.03h-6.6" stroke="#000" stroke-width="1.3" fill="none"/>
<text x="74.15" y="642.2" text-anchor="middle">0</text>
<text x="137.62" y="642.2" text-anchor="middle">20</text>
<text x="201.09" y="642.2" text-anchor="middle">40</text>
<text x="264.56" y="642.2" text-anchor="middle">60</text>
<text x="328.03" y="642.2" text-anchor="middle">80</text>
<text x="391.5" y="642.2" text-anchor="middle">100</text>
<text x="63.25" y="627.3" text-anchor="end">0</text>
<text x="63.25" y="572.67" text-anchor="end">0.2</text>
<text x="63.25" y="517.89" text-anchor="end">0.4</text>
<text x="63.25" y="463.11" text-anchor="end">0.6</text>
<text x="63.25" y="408.33" text-anchor="end">0.8</text>
<text x="63.25" y="353.4" text-anchor="end">1</text>
<text x="230.82" y="657.6" text-anchor="middle">N</text>
<g transform="translate(25.6 540.2) rotate(-90)">
<text x="0" y="0">1/</text>
<text x="14" y="0" textLength="8.3" lengthAdjust="spacingAndGlyphs">σ</text>
<text x="25.8" y="-5.9" class="s">tot</text>
<text x="21.4" y="3.3" class="s">t</text>
<text x="43.6" y="0" textLength="8.3" lengthAdjust="spacingAndGlyphs">σ</text>
<text x="53.5" y="3.3" class="s">t</text>
<text x="57.4" y="0">(N,Q,m)</text>
</g>
<text class="a" x="88.7" y="531">top, m=172.5 GeV</text>
<text class="a" x="88.7" y="550.2">Q=1000 GeV</text>
<text class="a" x="88.7" y="569.3"><tspan font-style="italic">μ</tspan> = Q</text>
<text class="a" x="88.7" y="588.4" xml:space="preserve">m/2 &lt; <tspan font-style="italic">μ</tspan><tspan dy="3.9" font-size="12.6">0R</tspan><tspan dy="-3.9">  &lt; 2m,  m &lt; </tspan><tspan font-style="italic">μ</tspan><tspan dy="3.9" font-size="12.6">0F</tspan><tspan dy="-3.9">  &lt; 2m</tspan></text>
<text class="a" x="304.5" y="607.4" text-anchor="end" xml:space="preserve">with 1/2 &lt; <tspan font-style="italic">μ</tspan><tspan dy="3.9" font-size="12.6">0R</tspan><tspan dy="-3.9">/</tspan><tspan font-style="italic">μ</tspan><tspan dy="3.9" font-size="12.6">0F</tspan><tspan dy="-3.9"> &lt; 2</tspan></text>
<rect x="143.14" y="353.5" width="239.86" height="63" fill="#fff"/>
<clipPath id="c3"><rect x="72.15" y="347.1" width="317.35" height="273.9"/></clipPath>
<g clip-path="url(#c3)" fill="none" stroke-linejoin="round">
<path d="M78.5 363.26 80.08 369.96 81.67 376.57 83.26 382.82 84.84 388.66 86.43 394.09 88.02 399.15 89.6 403.88 91.19 408.32 92.78 412.49 94.36 416.43 95.95 420.16 97.54 423.7 99.12 427.07 100.71 430.29 102.3 433.37 103.89 436.33 105.47 439.17 107.06 441.9 108.65 444.54 110.23 447.08 111.82 449.54 113.41 451.93 114.99 454.24 116.58 456.48 118.17 458.66 119.75 460.78 121.34 462.84 122.93 464.86 124.51 466.82 126.1 468.73 127.69 470.6 129.27 472.43 130.86 474.22 132.45 475.97 134.03 477.68 135.62 479.36 138.79 482.63 141.97 485.77 145.14 488.8 148.31 491.73 151.49 494.56 154.66 497.31 157.83 499.97 161.01 502.56 164.18 505.08 167.36 507.53 170.53 509.91 173.7 512.24 176.88 514.51 180.05 516.73 183.22 518.9 186.4 521.02 189.57 523.1 192.74 525.13 195.92 527.13 199.09 529.08 202.26 531 205.44 532.88 208.61 534.72 211.78 536.53 214.96 538.31 218.13 540.06 221.3 541.79 224.48 543.48 227.65 545.14 230.83 546.78 234 548.4 237.17 549.99 240.35 551.55 243.52 553.1 246.69 554.62 249.87 556.12 253.04 557.6 256.21 559.06 259.39 560.5 262.56 561.92 265.73 563.32 268.91 564.71 272.08 566.07 275.25 567.42 278.43 568.76 281.6 570.07 284.77 571.38 287.95 572.66 291.12 573.94 294.3 575.19 297.47 576.44 300.64 577.67 303.82 578.88 306.99 580.09 310.16 581.28 313.34 582.45 316.51 583.62 319.68 584.77 322.86 585.91 326.03 587.04 329.2 588.16 332.38 589.27 335.55 590.37 338.72 591.46 341.9 592.53 345.07 593.6 348.24 594.65 351.42 595.7 354.59 596.74 357.76 597.77 360.94 598.78 364.11 599.79 367.29 600.79 370.46 601.79 373.63 602.77 376.81 603.74 379.98 604.71 383.15 605.67 386.33 606.62 389.5 607.56 L389.5 713.86 386.33 712.47 383.15 711.06 379.98 709.64 376.81 708.21 373.63 706.76 370.46 705.29 367.29 703.81 364.11 702.31 360.94 700.79 357.76 699.26 354.59 697.71 351.42 696.15 348.24 694.57 345.07 692.96 341.9 691.34 338.72 689.7 335.55 688.04 332.38 686.36 329.2 684.66 326.03 682.94 322.86 681.2 319.68 679.43 316.51 677.65 313.34 675.83 310.16 674 306.99 672.14 303.82 670.25 300.64 668.34 297.47 666.4 294.3 664.44 291.12 662.44 287.95 660.42 284.77 658.37 281.6 656.28 278.43 654.17 275.25 652.02 272.08 649.84 268.91 647.62 265.73 645.37 262.56 643.08 259.39 640.75 256.21 638.38 253.04 635.97 249.87 633.52 246.69 631.02 243.52 628.48 240.35 625.89 237.17 623.25 234 620.56 230.83 617.83 227.65 615.06 224.48 612.27 221.3 609.44 218.13 606.57 214.96 603.66 211.78 600.72 208.61 597.73 205.44 594.71 202.26 591.63 199.09 588.51 195.92 585.35 192.74 582.13 189.57 578.86 186.4 575.53 183.22 572.14 180.05 568.69 176.88 565.18 173.7 561.6 170.53 557.95 167.36 554.22 164.18 550.41 161.01 546.52 157.83 542.54 154.66 538.46 151.49 534.29 148.31 530.01 145.14 525.61 141.97 521.1 138.79 516.46 135.62 511.69 134.03 509.25 132.45 506.77 130.86 504.25 129.27 501.69 127.69 499.09 126.1 496.45 124.51 493.76 122.93 491.03 121.34 488.25 119.75 485.42 118.17 482.54 116.58 479.6 114.99 476.61 113.41 473.56 111.82 470.45 110.23 467.27 108.65 464.03 107.06 460.72 105.47 457.34 103.89 453.88 102.3 450.34 100.71 446.71 99.12 443 97.54 439.18 95.95 435.25 94.36 431.21 92.78 427.02 91.19 422.68 89.6 418.13 88.02 413.33 86.43 408.19 84.84 402.55 83.26 396.13 81.67 388.41 80.08 378.29 78.5 363.26Z" fill="#2e8b57" fill-opacity="0.6"/>
<path d="M78.5 363.26 80.08 374.2 81.67 382.43 83.26 389.22 84.84 395.12 86.43 400.45 88.02 405.34 89.6 409.9 91.19 414.2 92.78 418.27 94.36 422.15 95.95 425.86 97.54 429.41 99.12 432.82 100.71 436.11 102.3 439.28 103.89 442.35 105.47 445.31 107.06 448.18 108.65 450.97 110.23 453.67 111.82 456.29 113.41 458.84 114.99 461.32 116.58 463.74 118.17 466.09 119.75 468.39 121.34 470.63 122.93 472.81 124.51 474.95 126.1 477.03 127.69 479.07 129.27 481.07 130.86 483.02 132.45 484.93 134.03 486.81 135.62 488.64 138.79 492.21 141.97 495.64 145.14 498.96 148.31 502.15 151.49 505.24 154.66 508.23 157.83 511.13 161.01 513.94 164.18 516.67 167.36 519.33 170.53 521.91 173.7 524.42 176.88 526.87 180.05 529.26 183.22 531.59 186.4 533.87 189.57 536.1 192.74 538.28 195.92 540.41 199.09 542.5 202.26 544.54 205.44 546.55 208.61 548.52 211.78 550.45 214.96 552.34 218.13 554.21 221.3 556.04 224.48 557.84 227.65 559.61 230.83 561.36 234 563.07 237.17 564.77 240.35 566.43 243.52 568.07 246.69 569.69 249.87 571.29 253.04 572.87 256.21 574.43 259.39 575.96 262.56 577.48 265.73 578.98 268.91 580.46 272.08 581.92 275.25 583.37 278.43 584.8 281.6 586.22 284.77 587.62 287.95 589.01 291.12 590.38 294.3 591.74 297.47 593.09 300.64 594.42 303.82 595.74 306.99 597.05 310.16 598.35 313.34 599.64 316.51 600.91 319.68 602.18 322.86 603.43 326.03 604.68 329.2 605.91 332.38 607.14 335.55 608.36 338.72 609.56 341.9 610.76 345.07 611.95 348.24 613.14 351.42 614.31 354.59 615.48 357.76 616.63 360.94 617.79 364.11 618.93 367.29 620.07 370.46 621.2 373.63 622.32 376.81 623.43 379.98 624.53 383.15 625.62 386.33 626.7 389.5 627.76" stroke="#2e8b57" stroke-width="1.3"/>
<path d="M78.5 363.26 80.08 370.97 81.67 377.5 83.26 383.21 84.84 388.32 86.43 392.96 88.02 397.22 89.6 401.17 91.19 404.86 92.78 408.31 94.36 411.57 95.95 414.65 97.54 417.57 99.12 420.35 100.71 423.01 102.3 425.55 103.89 427.98 105.47 430.31 107.06 432.56 108.65 434.72 110.23 436.81 111.82 438.82 113.41 440.77 114.99 442.65 116.58 444.47 118.17 446.24 119.75 447.96 121.34 449.63 122.93 451.25 124.51 452.82 126.1 454.36 127.69 455.85 129.27 457.31 130.86 458.73 132.45 460.11 134.03 461.46 135.62 462.79 138.79 465.34 141.97 467.78 145.14 470.11 148.31 472.35 151.49 474.51 154.66 476.58 157.83 478.57 161.01 480.49 164.18 482.35 167.36 484.14 170.53 485.87 173.7 487.55 176.88 489.17 180.05 490.74 183.22 492.27 186.4 493.75 189.57 495.18 192.74 496.58 195.92 497.93 199.09 499.25 202.26 500.54 205.44 501.79 208.61 503 211.78 504.19 214.96 505.35 218.13 506.47 221.3 507.58 224.48 508.65 227.65 509.7 230.83 510.72 234 511.69 237.17 512.64 240.35 513.56 243.52 514.47 246.69 515.35 249.87 516.22 253.04 517.06 256.21 517.89 259.39 518.7 262.56 519.49 265.73 520.27 268.91 521.03 272.08 521.77 275.25 522.5 278.43 523.21 281.6 523.91 284.77 524.6 287.95 525.27 291.12 525.93 294.3 526.58 297.47 527.21 300.64 527.83 303.82 528.44 306.99 529.04 310.16 529.63 313.34 530.21 316.51 530.77 319.68 531.33 322.86 531.87 326.03 532.41 329.2 532.94 332.38 533.45 335.55 533.96 338.72 534.46 341.9 534.95 345.07 535.43 348.24 535.91 351.42 536.37 354.59 536.83 357.76 537.28 360.94 537.76 364.11 538.22 367.29 538.68 370.46 539.13 373.63 539.58 376.81 540.02 379.98 540.45 383.15 540.87 386.33 541.29 389.5 541.7 L389.5 549.03 386.33 548.67 383.15 548.31 379.98 547.94 376.81 547.56 373.63 547.17 370.46 546.77 367.29 546.37 364.11 545.95 360.94 545.53 357.76 545.1 354.59 544.66 351.42 544.21 348.24 543.74 345.07 543.27 341.9 542.79 338.72 542.3 335.55 541.8 332.38 541.29 329.2 540.76 326.03 540.23 322.86 539.68 319.68 539.13 316.51 538.56 313.34 537.98 310.16 537.38 306.99 536.78 303.82 536.16 300.64 535.53 297.47 534.88 294.3 534.23 291.12 533.55 287.95 532.87 284.77 532.17 281.6 531.45 278.43 530.72 275.25 529.97 272.08 529.21 268.91 528.43 265.73 527.63 262.56 526.81 259.39 525.98 256.21 525.13 253.04 524.26 249.87 523.37 246.69 522.46 243.52 521.53 240.35 520.57 237.17 519.6 234 518.6 230.83 517.58 227.65 516.54 224.48 515.47 221.3 514.37 218.13 513.25 214.96 512.1 211.78 510.92 208.61 509.71 205.44 508.47 202.26 507.2 199.09 505.89 195.92 504.55 192.74 503.17 189.57 501.75 186.4 500.29 183.22 498.79 180.05 497.25 176.88 495.66 173.7 494.01 170.53 492.32 167.36 490.57 164.18 488.77 161.01 486.9 157.83 484.96 154.66 482.96 151.49 480.88 148.31 478.72 145.14 476.47 141.97 474.12 138.79 471.67 135.62 469.11 134.03 467.78 132.45 466.42 130.86 465.03 129.27 463.6 127.69 462.13 126.1 460.63 124.51 459.08 122.93 457.48 121.34 455.84 119.75 454.15 118.17 452.4 116.58 450.59 114.99 448.72 113.41 446.79 111.82 444.78 110.23 442.7 108.65 440.53 107.06 438.27 105.47 435.92 103.89 433.45 102.3 430.86 100.71 428.14 99.12 425.28 97.54 422.25 95.95 419.04 94.36 415.62 92.78 411.98 91.19 408.07 89.6 403.86 88.02 399.31 86.43 394.37 84.84 388.99 83.26 383.13 81.67 376.77 80.08 370 78.5 363.26Z" fill="#0000ff" fill-opacity="0.6"/>
<path d="M78.5 363.26 80.08 370.32 81.67 377.15 83.26 383.46 84.84 389.22 86.43 394.46 88.02 399.26 89.6 403.67 91.19 407.74 92.78 411.52 94.36 415.04 95.95 418.34 97.54 421.45 99.12 424.38 100.71 427.16 102.3 429.79 103.89 432.31 105.47 434.71 107.06 437 108.65 439.2 110.23 441.32 111.82 443.36 113.41 445.32 114.99 447.22 116.58 449.05 118.17 450.83 119.75 452.55 121.34 454.22 122.93 455.84 124.51 457.41 126.1 458.95 127.69 460.44 129.27 461.9 130.86 463.32 132.45 464.7 134.03 466.05 135.62 467.38 138.79 469.93 141.97 472.38 145.14 474.73 148.31 476.99 151.49 479.16 154.66 481.26 157.83 483.28 161.01 485.23 164.18 487.12 167.36 488.95 170.53 490.72 173.7 492.43 176.88 494.1 180.05 495.72 183.22 497.29 186.4 498.81 189.57 500.3 192.74 501.74 195.92 503.15 199.09 504.52 202.26 505.85 205.44 507.15 208.61 508.42 211.78 509.65 214.96 510.86 218.13 512.04 221.3 513.18 224.48 514.3 227.65 515.4 230.83 516.47 234 517.51 237.17 518.53 240.35 519.53 243.52 520.5 246.69 521.46 249.87 522.39 253.04 523.3 256.21 524.19 259.39 525.06 262.56 525.91 265.73 526.74 268.91 527.56 272.08 528.36 275.25 529.14 278.43 529.9 281.6 530.65 284.77 531.38 287.95 532.09 291.12 532.8 294.3 533.48 297.47 534.15 300.64 534.81 303.82 535.45 306.99 536.08 310.16 536.7 313.34 537.3 316.51 537.89 319.68 538.47 322.86 539.03 326.03 539.58 329.2 540.13 332.38 540.65 335.55 541.17 338.72 541.68 341.9 542.18 345.07 542.66 348.24 543.14 351.42 543.6 354.59 544.05 357.76 544.5 360.94 544.93 364.11 545.36 367.29 545.77 370.46 546.18 373.63 546.58 376.81 546.96 379.98 547.34 383.15 547.71 386.33 548.07 389.5 548.43" stroke="#0000ff" stroke-width="1.25" stroke-opacity="0.55"/>
<path d="M78.5 363.26 80.08 371.97 81.67 379.08 83.26 385.21 84.84 390.64 86.43 395.57 88.02 400.1 89.6 404.3 91.19 408.23 92.78 411.93 94.36 415.42 95.95 418.72 97.54 421.86 99.12 424.86 100.71 427.72 102.3 430.46 103.89 433.08 105.47 435.6 107.06 438.02 108.65 440.35 110.23 442.6 111.82 444.76 113.41 446.86 114.99 448.88 116.58 450.83 118.17 452.72 119.75 454.55 121.34 456.32 122.93 458.04 124.51 459.71 126.1 461.33 127.69 462.9 129.27 464.43 130.86 465.92 132.45 467.36 134.03 468.76 135.62 470.13 138.79 472.75 141.97 475.24 145.14 477.61 148.31 479.85 151.49 481.99 154.66 484.03 157.83 485.97 161.01 487.83 164.18 489.6 167.36 491.29 170.53 492.9 173.7 494.45 176.88 495.92 180.05 497.34 183.22 498.69 186.4 499.98 189.57 501.22 192.74 502.41 195.92 503.55 199.09 504.64 202.26 505.69 205.44 506.69 208.61 507.65 211.78 508.57 214.96 509.46 218.13 510.3 221.3 511.11 224.48 511.89 227.65 512.64 230.83 513.35 234 514.03 237.17 514.69 240.35 515.31 243.52 515.91 246.69 516.48 249.87 517.03 253.04 517.55 256.21 518.05 259.39 518.53 262.56 518.98 265.73 519.42 268.91 519.83 272.08 520.22 275.25 520.6 278.43 520.95 281.6 521.29 284.77 521.6 287.95 521.9 291.12 522.19 294.3 522.46 297.47 522.71 300.64 522.95 303.82 523.17 306.99 523.38 310.16 523.57 313.34 523.75 316.51 523.92 319.68 524.07 322.86 524.21 326.03 524.34 329.2 524.46 332.38 524.56 335.55 524.66 338.72 524.74 341.9 524.81 345.07 524.87 348.24 524.92 351.42 524.96 354.59 524.99 357.76 525.01 360.94 525.03 364.11 525.03 367.29 525.02 370.46 525.01 373.63 524.98 376.81 524.95 379.98 524.91 383.15 524.86 386.33 524.81 389.5 524.74 L389.5 567.01 386.33 566.61 383.15 566.2 379.98 565.78 376.81 565.34 373.63 564.89 370.46 564.44 367.29 563.97 364.11 563.49 360.94 562.99 357.76 562.49 354.59 561.97 351.42 561.44 348.24 560.89 345.07 560.34 341.9 559.77 338.72 559.18 335.55 558.59 332.38 557.97 329.2 557.35 326.03 556.71 322.86 556.05 319.68 555.38 316.51 554.7 313.34 554 310.16 553.28 306.99 552.55 303.82 551.8 300.64 551.04 297.47 550.26 294.3 549.46 291.12 548.64 287.95 547.81 284.77 546.95 281.6 546.08 278.43 545.19 275.25 544.28 272.08 543.35 268.91 542.4 265.73 541.43 262.56 540.44 259.39 539.43 256.21 538.4 253.04 537.34 249.87 536.26 246.69 535.15 243.52 534.03 240.35 532.87 237.17 531.7 234 530.49 230.83 529.26 227.65 528 224.48 526.72 221.3 525.4 218.13 524.05 214.96 522.68 211.78 521.27 208.61 519.83 205.44 518.36 202.26 516.85 199.09 515.3 195.92 513.72 192.74 512.1 189.57 510.44 186.4 508.73 183.22 506.99 180.05 505.19 176.88 503.35 173.7 501.47 170.53 499.52 167.36 497.53 164.18 495.47 161.01 493.36 157.83 491.18 154.66 488.94 151.49 486.62 148.31 484.22 145.14 481.74 141.97 479.17 138.79 476.5 135.62 473.72 134.03 472.29 132.45 470.83 130.86 469.33 129.27 467.81 127.69 466.24 126.1 464.64 124.51 463 122.93 461.31 121.34 459.58 119.75 457.8 118.17 455.97 116.58 454.09 114.99 452.14 113.41 450.13 111.82 448.05 110.23 445.89 108.65 443.65 107.06 441.32 105.47 438.89 103.89 436.35 102.3 433.69 100.71 430.89 99.12 427.94 97.54 424.81 95.95 421.5 94.36 417.96 92.78 414.17 91.19 410.1 89.6 405.69 88.02 400.91 86.43 395.68 84.84 389.97 83.26 383.73 81.67 376.96 80.08 369.89 78.5 363.26Z" fill="#9400d3" fill-opacity="0.6"/>
<path d="M78.5 363.26 80.08 370.45 81.67 377.52 83.26 384.1 84.84 390.13 86.43 395.65 88.02 400.7 89.6 405.36 91.19 409.66 92.78 413.67 94.36 417.4 95.95 420.91 97.54 424.22 99.12 427.34 100.71 430.3 102.3 433.12 103.89 435.8 105.47 438.37 107.06 440.83 108.65 443.19 110.23 445.46 111.82 447.65 113.41 449.76 114.99 451.8 116.58 453.78 118.17 455.69 119.75 457.54 121.34 459.35 122.93 461.1 124.51 462.8 126.1 464.46 127.69 466.07 129.27 467.65 130.86 469.18 132.45 470.69 134.03 472.15 135.62 473.58 138.79 476.36 141.97 479.01 145.14 481.56 148.31 484.02 151.49 486.38 154.66 488.66 157.83 490.85 161.01 492.98 164.18 495.03 167.36 497.02 170.53 498.94 173.7 500.81 176.88 502.62 180.05 504.37 183.22 506.08 186.4 507.73 189.57 509.34 192.74 510.91 195.92 512.43 199.09 513.92 202.26 515.36 205.44 516.77 208.61 518.14 211.78 519.47 214.96 520.77 218.13 522.04 221.3 523.28 224.48 524.49 227.65 525.66 230.83 526.81 234 527.93 237.17 529.03 240.35 530.1 243.52 531.14 246.69 532.16 249.87 533.15 253.04 534.12 256.21 535.07 259.39 536 262.56 536.9 265.73 537.78 268.91 538.65 272.08 539.49 275.25 540.32 278.43 541.12 281.6 541.91 284.77 542.68 287.95 543.43 291.12 544.16 294.3 544.88 297.47 545.58 300.64 546.26 303.82 546.93 306.99 547.58 310.16 548.22 313.34 548.84 316.51 549.45 319.68 550.04 322.86 550.62 326.03 551.18 329.2 551.74 332.38 552.28 335.55 552.8 338.72 553.31 341.9 553.82 345.07 554.3 348.24 554.78 351.42 555.24 354.59 555.7 357.76 556.14 360.94 556.57 364.11 556.99 367.29 557.4 370.46 557.79 373.63 558.18 376.81 558.56 379.98 558.92 383.15 559.28 386.33 559.63 389.5 559.96" stroke="#9400d3" stroke-width="1.5"/>
<path d="M78.5 363.26 80.08 369.98 81.67 376.71 83.26 383.02 84.84 388.83 86.43 394.16 88.02 399.03 89.6 403.51 91.19 407.63 92.78 411.44 94.36 414.98 95.95 418.3 97.54 421.43 99.12 424.38 100.71 427.17 102.3 429.82 103.89 432.33 105.47 434.73 107.06 437.02 108.65 439.21 110.23 441.3 111.82 443.32 113.41 445.26 114.99 447.13 116.58 448.93 118.17 450.68 119.75 452.37 121.34 454.01 122.93 455.6 124.51 457.14 126.1 458.64 127.69 460.11 129.27 461.53 130.86 462.93 132.45 464.29 134.03 465.62 135.62 466.92 138.79 469.44 141.97 471.84 145.14 474.15 148.31 476.36 151.49 478.49 154.66 480.54 157.83 482.51 161.01 484.42 164.18 486.26 167.36 488.04 170.53 489.76 173.7 491.43 176.88 493.05 180.05 494.62 183.22 496.15 186.4 497.63 189.57 499.07 192.74 500.47 195.92 501.83 199.09 503.15 202.26 504.44 205.44 505.69 208.61 506.92 211.78 508.11 214.96 509.27 218.13 510.41 221.3 511.51 224.48 512.59 227.65 513.65 230.83 514.68 234 515.68 237.17 516.67 240.35 517.63 243.52 518.57 246.69 519.49 249.87 520.39 253.04 521.27 256.21 522.13 259.39 522.97 262.56 523.8 265.73 524.61 268.91 525.4 272.08 526.18 275.25 526.93 278.43 527.68 281.6 528.4 284.77 529.11 287.95 529.81 291.12 530.49 294.3 531.16 297.47 531.81 300.64 532.45 303.82 533.08 306.99 533.69 310.16 534.29 313.34 534.88 316.51 535.46 319.68 536.02 322.86 536.58 326.03 537.12 329.2 537.65 332.38 538.17 335.55 538.68 338.72 539.18 341.9 539.67 345.07 540.14 348.24 540.61 351.42 541.07 354.59 541.52 357.76 541.96 360.94 542.39 364.11 542.81 367.29 543.22 370.46 543.63 373.63 544.02 376.81 544.41 379.98 544.79 383.15 545.16 386.33 545.53 389.5 545.88 L389.5 552.18 386.33 551.82 383.15 551.46 379.98 551.09 376.81 550.71 373.63 550.32 370.46 549.92 367.29 549.51 364.11 549.1 360.94 548.67 357.76 548.24 354.59 547.79 351.42 547.34 348.24 546.88 345.07 546.4 341.9 545.92 338.72 545.43 335.55 544.92 332.38 544.4 329.2 543.88 326.03 543.34 322.86 542.79 319.68 542.23 316.51 541.66 313.34 541.07 310.16 540.48 306.99 539.87 303.82 539.24 300.64 538.61 297.47 537.96 294.3 537.29 291.12 536.62 287.95 535.92 284.77 535.22 281.6 534.5 278.43 533.76 275.25 533.01 272.08 532.24 268.91 531.45 265.73 530.65 262.56 529.83 259.39 528.99 256.21 528.13 253.04 527.25 249.87 526.35 246.69 525.43 243.52 524.49 240.35 523.52 237.17 522.53 234 521.52 230.83 520.49 227.65 519.43 224.48 518.34 221.3 517.23 218.13 516.09 214.96 514.93 211.78 513.73 208.61 512.5 205.44 511.24 202.26 509.95 199.09 508.63 195.92 507.27 192.74 505.87 189.57 504.43 186.4 502.96 183.22 501.44 180.05 499.87 176.88 498.26 173.7 496.6 170.53 494.88 167.36 493.11 164.18 491.28 161.01 489.38 157.83 487.42 154.66 485.38 151.49 483.27 148.31 481.07 145.14 478.78 141.97 476.4 138.79 473.91 135.62 471.3 134.03 469.95 132.45 468.56 130.86 467.13 129.27 465.67 127.69 464.16 126.1 462.61 124.51 461.01 122.93 459.37 121.34 457.67 119.75 455.92 118.17 454.12 116.58 452.25 114.99 450.32 113.41 448.32 111.82 446.25 110.23 444.1 108.65 441.86 107.06 439.53 105.47 437.1 103.89 434.56 102.3 431.9 100.71 429.11 99.12 426.17 97.54 423.07 95.95 419.78 94.36 416.26 92.78 412.51 91.19 408.5 89.6 404.2 88.02 399.58 86.43 394.59 84.84 389.15 83.26 383.24 81.67 376.84 80.08 370.03 78.5 363.26Z" fill="#e00030" fill-opacity="0.55"/>
<path d="M78.5 363.26 80.08 369.99 81.67 376.74 83.26 383.08 84.84 388.91 86.43 394.26 88.02 399.17 89.6 403.68 91.19 407.85 92.78 411.71 94.36 415.3 95.95 418.67 97.54 421.84 99.12 424.83 100.71 427.66 102.3 430.34 103.89 432.89 105.47 435.32 107.06 437.65 108.65 439.87 110.23 442 111.82 444.05 113.41 446.03 114.99 447.93 116.58 449.76 118.17 451.54 119.75 453.26 121.34 454.92 122.93 456.54 124.51 458.11 126.1 459.64 127.69 461.12 129.27 462.57 130.86 463.98 132.45 465.36 134.03 466.7 135.62 468.01 138.79 470.55 141.97 472.98 145.14 475.31 148.31 477.54 151.49 479.68 154.66 481.75 157.83 483.74 161.01 485.66 164.18 487.51 167.36 489.31 170.53 491.04 173.7 492.72 176.88 494.35 180.05 495.93 183.22 497.47 186.4 498.96 189.57 500.41 192.74 501.82 195.92 503.19 199.09 504.52 202.26 505.82 205.44 507.08 208.61 508.31 211.78 509.51 214.96 510.69 218.13 511.83 221.3 512.94 224.48 514.03 227.65 515.09 230.83 516.13 234 517.14 237.17 518.13 240.35 519.1 243.52 520.05 246.69 520.97 249.87 521.88 253.04 522.76 256.21 523.63 259.39 524.48 262.56 525.31 265.73 526.12 268.91 526.91 272.08 527.69 275.25 528.45 278.43 529.2 281.6 529.93 284.77 530.64 287.95 531.34 291.12 532.02 294.3 532.69 297.47 533.35 300.64 533.99 303.82 534.62 306.99 535.24 310.16 535.84 313.34 536.43 316.51 537.01 319.68 537.58 322.86 538.13 326.03 538.67 329.2 539.21 332.38 539.73 335.55 540.24 338.72 540.74 341.9 541.23 345.07 541.71 348.24 542.18 351.42 542.64 354.59 543.09 357.76 543.53 360.94 543.96 364.11 544.38 367.29 544.8 370.46 545.2 373.63 545.6 376.81 545.99 379.98 546.37 383.15 546.74 386.33 547.1 389.5 547.46 L389.5 550.92 386.33 550.56 383.15 550.2 379.98 549.83 376.81 549.45 373.63 549.06 370.46 548.66 367.29 548.26 364.11 547.84 360.94 547.42 357.76 546.98 354.59 546.54 351.42 546.09 348.24 545.62 345.07 545.15 341.9 544.67 338.72 544.18 335.55 543.67 332.38 543.16 329.2 542.63 326.03 542.1 322.86 541.55 319.68 540.99 316.51 540.42 313.34 539.83 310.16 539.24 306.99 538.63 303.82 538.01 300.64 537.38 297.47 536.73 294.3 536.07 291.12 535.39 287.95 534.7 284.77 534 281.6 533.28 278.43 532.54 275.25 531.79 272.08 531.02 268.91 530.24 265.73 529.44 262.56 528.62 259.39 527.78 256.21 526.93 253.04 526.05 249.87 525.16 246.69 524.24 243.52 523.3 240.35 522.34 237.17 521.36 234 520.36 230.83 519.33 227.65 518.27 224.48 517.19 221.3 516.09 218.13 514.96 214.96 513.8 211.78 512.61 208.61 511.39 205.44 510.13 202.26 508.85 199.09 507.53 195.92 506.18 192.74 504.79 189.57 503.36 186.4 501.89 183.22 500.38 180.05 498.82 176.88 497.22 173.7 495.56 170.53 493.86 167.36 492.1 164.18 490.27 161.01 488.39 157.83 486.44 154.66 484.41 151.49 482.31 148.31 480.13 145.14 477.86 141.97 475.49 138.79 473.01 135.62 470.42 134.03 469.08 132.45 467.71 130.86 466.29 129.27 464.84 127.69 463.35 126.1 461.81 124.51 460.24 122.93 458.61 121.34 456.94 119.75 455.21 118.17 453.43 116.58 451.59 114.99 449.68 113.41 447.71 111.82 445.66 110.23 443.54 108.65 441.33 107.06 439.03 105.47 436.63 103.89 434.12 102.3 431.49 100.71 428.72 99.12 425.81 97.54 422.74 95.95 419.48 94.36 416.01 92.78 412.3 91.19 408.33 89.6 404.07 88.02 399.47 86.43 394.5 84.84 389.09 83.26 383.2 81.67 376.81 80.08 370.02 78.5 363.26Z" fill="#ff0000" fill-opacity="0.5"/>
<path d="M78.5 363.26 80.08 370.01 81.67 376.78 83.26 383.14 84.84 389.01 86.43 394.39 88.02 399.33 89.6 403.89 91.19 408.1 92.78 412.02 94.36 415.67 95.95 419.1 97.54 422.31 99.12 425.35 100.71 428.22 102.3 430.95 103.89 433.54 105.47 436.01 107.06 438.38 108.65 440.64 110.23 442.81 111.82 444.9 113.41 446.91 114.99 448.85 116.58 450.72 118.17 452.54 119.75 454.29 121.34 455.99 122.93 457.63 124.51 459.23 126.1 460.78 127.69 462.3 129.27 463.77 130.86 465.2 132.45 466.59 134.03 467.96 135.62 469.28 138.79 471.85 141.97 474.3 145.14 476.65 148.31 478.9 151.49 481.07 154.66 483.15 157.83 485.16 161.01 487.1 164.18 488.97 167.36 490.78 170.53 492.53 173.7 494.22 176.88 495.86 180.05 497.46 183.22 499 186.4 500.51 189.57 501.96 192.74 503.38 195.92 504.76 199.09 506.11 202.26 507.42 205.44 508.69 208.61 509.93 211.78 511.14 214.96 512.33 218.13 513.48 221.3 514.6 224.48 515.7 227.65 516.77 230.83 517.82 234 518.84 237.17 519.83 240.35 520.81 243.52 521.76 246.69 522.7 249.87 523.61 253.04 524.5 256.21 525.37 259.39 526.22 262.56 527.05 265.73 527.87 268.91 528.67 272.08 529.45 275.25 530.21 278.43 530.96 281.6 531.69 284.77 532.41 287.95 533.11 291.12 533.8 294.3 534.47 297.47 535.13 300.64 535.78 303.82 536.41 306.99 537.03 310.16 537.63 313.34 538.23 316.51 538.81 319.68 539.38 322.86 539.93 326.03 540.48 329.2 541.01 332.38 541.54 335.55 542.05 338.72 542.55 341.9 543.04 345.07 543.52 348.24 543.99 351.42 544.46 354.59 544.91 357.76 545.35 360.94 545.78 364.11 546.21 367.29 546.62 370.46 547.03 373.63 547.42 376.81 547.81 379.98 548.19 383.15 548.56 386.33 548.93 389.5 549.28" stroke="#ff0000" stroke-width="2.1"/>
</g>
<rect x="72.15" y="347.1" width="317.35" height="273.9" fill="none" stroke="#000" stroke-width="1.6"/>
<text x="323.8" y="366.7" text-anchor="end">NLO</text>
<rect x="331.6" y="357.45" width="40.7" height="7.5" fill="#2e8b57" fill-opacity="0.6"/>
<text x="323.8" y="382" text-anchor="end">NLO+NLL logR CGMP</text>
<rect x="331.6" y="372.75" width="40.7" height="7.5" fill="#0000ff" fill-opacity="0.6"/>
<text x="323.8" y="397.2" text-anchor="end">NNLO</text>
<rect x="331.6" y="387.95" width="40.7" height="7.5" fill="#9400d3" fill-opacity="0.6"/>
<text x="323.8" y="412.5" text-anchor="end">NNLO+NNLL logR CGMP</text>
<rect x="331.6" y="403.25" width="40.7" height="7.5" fill="#ff0000" fill-opacity="0.6"/>
<path d="M542.78 618.8V347.1M607.96 618.8V347.1M673.14 618.8V347.1M738.32 618.8V347.1" stroke="#808080" stroke-width="1" stroke-dasharray="1 4.2" fill="none"/>
<path d="M479.8 566.37H803.5M479.8 511.59H803.5M479.8 456.81H803.5M479.8 402.03H803.5" stroke="#808080" stroke-width="1" stroke-dasharray="1 4.0" fill="none"/>
<path d="M542.78 621v-6.6M542.78 347.1v6.6M607.96 621v-6.6M607.96 347.1v6.6M673.14 621v-6.6M673.14 347.1v6.6M738.32 621v-6.6M738.32 347.1v6.6M477.6 566.37h6.6M803.5 566.37h-6.6M477.6 511.59h6.6M803.5 511.59h-6.6M477.6 456.81h6.6M803.5 456.81h-6.6M477.6 402.03h6.6M803.5 402.03h-6.6" stroke="#000" stroke-width="1.3" fill="none"/>
<text x="479.6" y="642.2" text-anchor="middle">0</text>
<text x="544.78" y="642.2" text-anchor="middle">0.2</text>
<text x="609.96" y="642.2" text-anchor="middle">0.4</text>
<text x="675.14" y="642.2" text-anchor="middle">0.6</text>
<text x="740.32" y="642.2" text-anchor="middle">0.8</text>
<text x="805.5" y="642.2" text-anchor="middle">1</text>
<text x="468.7" y="627.3" text-anchor="end">0</text>
<text x="468.7" y="572.67" text-anchor="end">2</text>
<text x="468.7" y="517.89" text-anchor="end">4</text>
<text x="468.7" y="463.11" text-anchor="end">6</text>
<text x="468.7" y="408.33" text-anchor="end">8</text>
<text x="468.7" y="353.4" text-anchor="end">10</text>
<text x="640.55" y="657.6" text-anchor="middle">x</text>
<g transform="translate(440 546) rotate(-90)">
<text x="0" y="0">1/</text>
<text x="14" y="0" textLength="8.3" lengthAdjust="spacingAndGlyphs">σ</text>
<text x="25.8" y="-5.9" class="s">tot</text>
<text x="21.4" y="3.3" class="s">t</text>
<text x="42.6" y="0">d</text>
<text x="51.2" y="0" textLength="8.3" lengthAdjust="spacingAndGlyphs">σ</text>
<text x="60.7" y="3.3" class="s">t</text>
<text x="63.6" y="0">(Q,m)/dx</text>
</g>
<text class="a" x="510.7" y="448.6">top, m=172.5 GeV</text>
<text class="a" x="510.7" y="467.6">Q=1000 GeV</text>
<text class="a" x="510.7" y="486.8"><tspan font-style="italic">μ</tspan> = Q</text>
<text class="a" x="510.7" y="506" xml:space="preserve">m/2 &lt; <tspan font-style="italic">μ</tspan><tspan dy="3.9" font-size="12.6">0R</tspan><tspan dy="-3.9">  &lt; 2m,  m &lt; </tspan><tspan font-style="italic">μ</tspan><tspan dy="3.9" font-size="12.6">0F</tspan><tspan dy="-3.9">  &lt; 2m</tspan></text>
<text class="a" x="729" y="525.2" text-anchor="end" xml:space="preserve">with 1/2 &lt; <tspan font-style="italic">μ</tspan><tspan dy="3.9" font-size="12.6">0R</tspan><tspan dy="-3.9">/</tspan><tspan font-style="italic">μ</tspan><tspan dy="3.9" font-size="12.6">0F</tspan><tspan dy="-3.9"> &lt; 2</tspan></text>
<rect x="557.34" y="353.5" width="239.66" height="63" fill="#fff"/>
<clipPath id="c4"><rect x="477.6" y="347.1" width="325.9" height="273.9"/></clipPath>
<g clip-path="url(#c4)" fill="none" stroke-linejoin="round">
<path d="M551.6 621.24 554.86 621.23 558.12 621.21 561.38 621.2 564.63 621.17 567.89 621.12 571.15 621.06 574.41 620.97 577.67 620.89 580.93 620.82 584.19 620.74 587.45 620.66 590.71 620.57 593.97 620.47 597.22 620.38 600.48 620.28 603.74 620.18 607 620.07 610.26 619.96 613.52 619.85 616.78 619.73 620.04 619.61 623.3 619.48 626.56 619.36 629.81 619.23 633.07 619.09 636.33 618.95 639.59 618.8 642.85 618.65 646.11 618.48 649.37 618.31 652.63 618.13 655.89 617.95 659.14 617.75 662.4 617.55 665.66 617.33 668.92 617.11 672.18 616.86 675.44 616.59 678.7 616.31 681.96 616 685.22 615.67 688.48 615.31 691.74 614.93 694.99 614.5 698.25 614.04 701.51 613.54 704.77 613 708.03 612.42 711.29 611.8 714.55 611.14 717.81 610.43 721.07 609.67 724.33 608.83 727.58 607.92 730.84 606.92 734.1 605.81 737.36 604.59 740.62 603.22 740.62 603.22 741.27 602.93 741.92 602.63 742.58 602.32 743.23 602.01 743.88 601.69 744.53 601.36 745.18 601.02 745.83 600.67 746.49 600.32 747.14 599.95 747.79 599.58 748.44 599.19 749.09 598.8 749.75 598.39 750.4 597.98 751.05 597.55 751.7 597.11 752.35 596.66 753 596.19 753.66 595.71 754.31 595.22 754.96 594.71 755.61 594.18 756.26 593.64 756.91 593.09 757.57 592.51 758.22 591.92 758.87 591.31 759.52 590.67 760.17 590.02 760.83 589.34 761.48 588.64 762.13 587.92 762.78 587.17 763.43 586.39 764.08 585.58 764.74 584.75 765.39 583.88 766.04 582.98 766.69 582.05 767.34 581.08 768 580.07 768.65 579.02 769.3 577.93 769.95 576.79 770.6 575.61 771.25 574.37 771.91 573.08 772.56 571.73 773.21 570.33 773.86 568.86 774.51 567.32 775.17 565.71 775.82 564.03 776.47 562.26 777.12 560.41 777.77 558.47 778.42 556.42 778.92 554.27 779.3 552 779.66 549.61 780.01 547.09 780.33 544.43 780.64 541.62 780.93 538.66 781.21 535.53 781.45 532.21 781.68 528.7 781.88 524.98 782.05 521.02 782.2 516.82 782.85 512.37 783.5 507.63 784.15 502.57 784.81 497.15 785.46 491.34 786.11 485.1 786.76 478.37 787.41 471.08 788.06 463.16 788.72 454.51 789.37 444.98 790.02 434.39 790.67 422.49 791.32 408.91 791.97 393.12 792.63 374.3 793.28 351.12 793.93 321.4" stroke="#2e8b57" stroke-opacity="0.6" stroke-width="1.7"/>
<path d="M550.9 621.19 554.16 621.18 557.42 621.16 560.68 621.15 563.93 621.12 567.19 621.07 570.45 621.01 573.71 620.92 576.97 620.84 580.23 620.77 583.49 620.69 586.75 620.61 590.01 620.52 593.27 620.42 596.52 620.33 599.78 620.23 603.04 620.13 606.3 620.02 609.56 619.91 612.82 619.8 616.08 619.68 619.34 619.56 622.6 619.43 625.86 619.31 629.11 619.18 632.37 619.04 635.63 618.9 638.89 618.75 642.15 618.6 645.41 618.43 648.67 618.26 651.93 618.08 655.19 617.9 658.45 617.7 661.7 617.5 664.96 617.28 668.22 617.06 671.48 616.81 674.74 616.54 678 616.26 681.26 615.95 684.52 615.62 687.78 615.26 691.04 614.88 694.29 614.45 697.55 613.99 700.81 613.49 704.07 612.95 707.33 612.37 710.59 611.75 713.85 611.09 717.11 610.38 720.37 609.62 723.63 608.78 726.88 607.87 730.14 606.87 733.4 605.76 736.66 604.54 739.92 603.17 739.92 603.17 740.57 602.88 741.22 602.58 741.88 602.27 742.53 601.96 743.18 601.64 743.83 601.31 744.48 600.97 745.13 600.62 745.79 600.27 746.44 599.9 747.09 599.53 747.74 599.14 748.39 598.75 749.05 598.34 749.7 597.93 750.35 597.5 751 597.06 751.65 596.61 752.3 596.14 752.96 595.66 753.61 595.17 754.26 594.66 754.91 594.13 755.56 593.59 756.22 593.04 756.87 592.46 757.52 591.87 758.17 591.26 758.82 590.62 759.47 589.97 760.13 589.29 760.78 588.59 761.43 587.87 762.08 587.12 762.73 586.34 763.38 585.53 764.04 584.7 764.69 583.83 765.34 582.93 765.99 582 766.64 581.03 767.3 580.02 767.95 578.97 768.6 577.88 769.25 576.74 769.9 575.56 770.55 574.32 771.21 573.03 771.86 571.68 772.51 570.28 773.16 568.81 773.81 567.27 774.47 565.66 775.12 563.98 775.77 562.21 776.42 560.36 777.07 558.42 777.72 556.37 778.34 554.22 778.93 551.95 779.52 549.56 780.1 547.05 780.68 544.39 781.26 541.59 781.83 538.63 782.4 535.5 782.96 532.19 783.51 528.69 784.06 524.97 784.61 521.02 785.15 516.82 785.8 512.37 786.45 507.63 787.1 502.57 787.75 497.15 788.41 491.34 789.06 485.1 789.71 478.37 790.36 471.08 791.01 463.16 791.67 454.51 792.32 444.98 792.97 434.39 793.62 422.49 794.27 408.91 794.92 393.12 795.58 374.3 796.23 351.12 796.88 321.4" stroke="#0000ff" stroke-width="2.0"/>
<path d="M549.7 621.09 552.96 621.08 556.22 621.06 559.48 621.05 562.73 621.02 565.99 620.97 569.25 620.91 572.51 620.82 575.77 620.74 579.03 620.67 582.29 620.59 585.55 620.51 588.81 620.42 592.07 620.32 595.32 620.23 598.58 620.13 601.84 620.03 605.1 619.92 608.36 619.81 611.62 619.7 614.88 619.58 618.14 619.46 621.4 619.33 624.66 619.21 627.91 619.08 631.17 618.94 634.43 618.8 637.69 618.65 640.95 618.5 644.21 618.33 647.47 618.16 650.73 617.98 653.99 617.8 657.25 617.6 660.5 617.4 663.76 617.18 667.02 616.96 670.28 616.71 673.54 616.44 676.8 616.16 680.06 615.85 683.32 615.52 686.58 615.16 689.84 614.78 693.09 614.35 696.35 613.89 699.61 613.39 702.87 612.85 706.13 612.27 709.39 611.65 712.65 610.99 715.91 610.28 719.17 609.52 722.43 608.68 725.68 607.77 728.94 606.77 732.2 605.66 735.46 604.44 738.72 603.07 738.72 603.07 739.37 602.78 740.02 602.48 740.68 602.17 741.33 601.86 741.98 601.54 742.63 601.21 743.28 600.87 743.93 600.52 744.59 600.17 745.24 599.8 745.89 599.43 746.54 599.04 747.19 598.65 747.85 598.24 748.5 597.83 749.15 597.4 749.8 596.96 750.45 596.51 751.1 596.04 751.76 595.56 752.41 595.07 753.06 594.56 753.71 594.03 754.36 593.49 755.01 592.94 755.67 592.36 756.32 591.77 756.97 591.16 757.62 590.52 758.27 589.87 758.93 589.19 759.58 588.49 760.23 587.77 760.88 587.02 761.53 586.24 762.18 585.43 762.84 584.6 763.49 583.73 764.14 582.83 764.79 581.9 765.44 580.93 766.1 579.92 766.75 578.87 767.4 577.78 768.05 576.64 768.7 575.46 769.35 574.22 770.01 572.93 770.66 571.58 771.31 570.18 771.96 568.71 772.61 567.17 773.27 565.56 773.92 563.88 774.57 562.11 775.22 560.26 775.87 558.32 776.52 556.27 777.12 554.13 777.67 551.86 778.22 549.48 778.76 546.97 779.3 544.32 779.82 541.53 780.34 538.58 780.86 535.46 781.36 532.15 781.86 528.66 782.35 524.95 782.83 521.01 783.3 516.82 783.95 512.37 784.6 507.63 785.25 502.57 785.91 497.15 786.56 491.34 787.21 485.1 787.86 478.37 788.51 471.08 789.16 463.16 789.82 454.51 790.47 444.98 791.12 434.39 791.77 422.49 792.42 408.91 793.07 393.12 793.73 374.3 794.38 351.12 795.03 321.4" stroke="#8a10e0" stroke-width="2.0"/>
<path d="M480.79 601.83 L482.98 621" stroke="#8a2be2" stroke-width="1.6" transform="translate(-0.5 0)"/>
<path d="M501.23 621 L503.67 613.06 L506.28 621 Z" fill="#b8087c"/>
<path d="M549.3 620.99 552.56 620.98 555.82 620.96 559.08 620.95 562.33 620.92 565.59 620.87 568.85 620.81 572.11 620.72 575.37 620.64 578.63 620.57 581.89 620.49 585.15 620.41 588.41 620.32 591.67 620.22 594.92 620.13 598.18 620.03 601.44 619.93 604.7 619.82 607.96 619.71 611.22 619.6 614.48 619.48 617.74 619.36 621 619.23 624.26 619.11 627.51 618.98 630.77 618.84 634.03 618.7 637.29 618.55 640.55 618.4 643.81 618.23 647.07 618.06 650.33 617.88 653.59 617.7 656.85 617.5 660.1 617.3 663.36 617.08 666.62 616.86 669.88 616.61 673.14 616.34 676.4 616.06 679.66 615.75 682.92 615.42 686.18 615.06 689.44 614.68 692.69 614.25 695.95 613.79 699.21 613.29 702.47 612.75 705.73 612.17 708.99 611.55 712.25 610.89 715.51 610.18 718.77 609.42 722.03 608.58 725.28 607.67 728.54 606.67 731.8 605.56 735.06 604.34 738.32 602.97 738.32 602.97 738.97 602.68 739.62 602.38 740.28 602.07 740.93 601.76 741.58 601.44 742.23 601.11 742.88 600.77 743.53 600.42 744.19 600.07 744.84 599.7 745.49 599.33 746.14 598.94 746.79 598.55 747.45 598.14 748.1 597.73 748.75 597.3 749.4 596.86 750.05 596.41 750.7 595.94 751.36 595.46 752.01 594.97 752.66 594.46 753.31 593.93 753.96 593.39 754.62 592.84 755.27 592.26 755.92 591.67 756.57 591.06 757.22 590.42 757.87 589.77 758.53 589.09 759.18 588.39 759.83 587.67 760.48 586.92 761.13 586.14 761.78 585.33 762.44 584.5 763.09 583.63 763.74 582.73 764.39 581.8 765.04 580.83 765.7 579.82 766.35 578.77 767 577.68 767.65 576.54 768.3 575.36 768.95 574.12 769.61 572.83 770.26 571.48 770.91 570.08 771.56 568.61 772.21 567.07 772.87 565.46 773.52 563.78 774.17 562.01 774.82 560.16 775.47 558.22 776.12 556.17 776.78 554.03 777.43 551.77 778.08 549.39 778.73 546.89 779.38 544.25 780.04 541.46 780.69 538.52 781.34 535.41 781.99 532.11 782.64 528.63 783.29 524.92 783.95 520.99 784.6 516.82 785.25 512.37 785.9 507.63 786.55 502.57 787.21 497.15 787.86 491.34 788.51 485.1 789.16 478.37 789.81 471.08 790.46 463.16 791.12 454.51 791.77 444.98 792.42 434.39 793.07 422.49 793.72 408.91 794.37 393.12 795.03 374.3 795.68 351.12 796.33 321.4" stroke="#ff0000" stroke-width="1.9"/>
<path d="M480.79 593.06 L483.4 621" stroke="#ff0000" stroke-width="1.7"/>
</g>
<rect x="477.6" y="347.1" width="325.9" height="273.9" fill="none" stroke="#000" stroke-width="1.6"/>
<text x="738" y="366.7" text-anchor="end">NLO</text>
<rect x="746.1" y="357.45" width="40.2" height="7.5" fill="#2e8b57" fill-opacity="0.6"/>
<text x="738" y="382" text-anchor="end">NLO+NLL logR CGMP</text>
<rect x="746.1" y="372.75" width="40.2" height="7.5" fill="#0000ff" fill-opacity="0.6"/>
<text x="738" y="397.2" text-anchor="end">NNLO</text>
<rect x="746.1" y="387.95" width="40.2" height="7.5" fill="#9400d3" fill-opacity="0.6"/>
<text x="738" y="412.5" text-anchor="end">NNLO+NNLL logR CGMP</text>
<rect x="746.1" y="403.25" width="40.2" height="7.5" fill="#ff0000" fill-opacity="0.6"/>
</svg></body></html>
